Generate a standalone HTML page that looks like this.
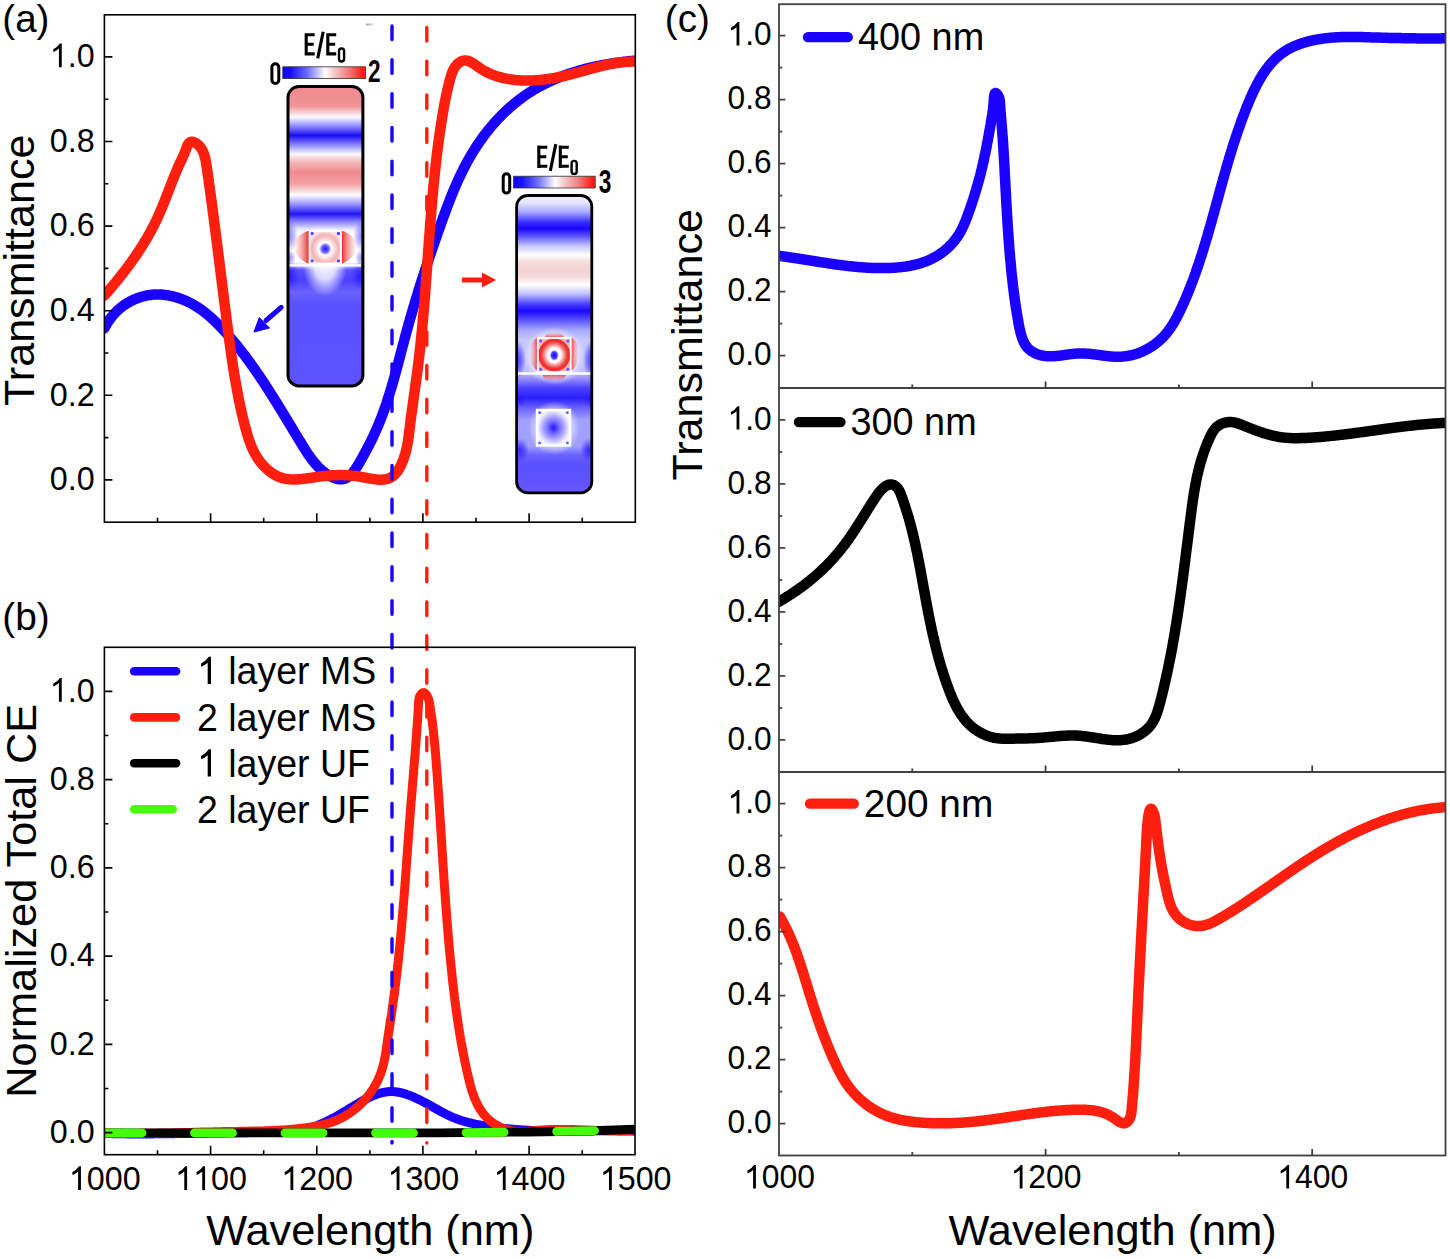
<!DOCTYPE html><html><head><meta charset="utf-8"><style>html,body{margin:0;padding:0;background:#fff;}svg{display:block;}text{font-family:"Liberation Sans",sans-serif;}</style></head><body>
<svg width="1450" height="1259" viewBox="0 0 1450 1259">
<rect width="1450" height="1259" fill="#fefefe"/>
<defs>
<clipPath id="ca"><rect x="104.4" y="14.8" width="530.9" height="507.4"/></clipPath>
<clipPath id="cb"><rect x="104.4" y="647.3" width="530.6" height="507.4"/></clipPath>
<clipPath id="cc0"><rect x="779.0" y="4.2" width="666.5" height="383.8"/></clipPath>
<clipPath id="cc1"><rect x="779.0" y="388.0" width="666.5" height="384.0"/></clipPath>
<clipPath id="cc2"><rect x="779.0" y="772.0" width="666.5" height="383.5"/></clipPath>
</defs>
<g clip-path="url(#ca)" fill="none" stroke-linejoin="round" stroke-linecap="round">
<path d="M104.4,328.2 104.9,327.3 105.4,326.4 105.9,325.5 106.4,324.6 106.9,323.7 107.4,322.8 108.0,321.9 108.6,321.1 109.1,320.2 109.7,319.4 110.3,318.6 110.9,317.8 111.6,317.0 112.2,316.2 112.9,315.4 113.5,314.7 114.2,313.9 114.9,313.2 115.6,312.4 116.3,311.7 117.0,311.0 117.7,310.3 118.5,309.7 119.2,309.0 120.0,308.4 120.7,307.7 121.5,307.1 122.3,306.5 123.1,305.9 123.9,305.3 124.7,304.8 125.5,304.2 126.3,303.7 127.2,303.2 128.0,302.6 128.9,302.2 129.7,301.7 130.6,301.2 131.5,300.8 132.4,300.3 133.2,299.9 134.1,299.5 135.0,299.1 135.9,298.7 136.9,298.4 137.8,298.0 138.7,297.7 139.6,297.4 140.6,297.1 141.5,296.8 142.5,296.5 143.4,296.3 144.4,296.0 145.3,295.8 146.3,295.6 147.2,295.4 148.2,295.2 149.2,295.1 150.2,295.0 151.2,294.8 152.1,294.7 153.1,294.6 154.1,294.6 155.1,294.5 156.1,294.5 157.1,294.5 158.1,294.5 159.1,294.5 160.1,294.5 161.1,294.6 162.1,294.6 163.1,294.7 164.1,294.8 165.1,295.0 166.1,295.1 167.1,295.2 168.1,295.4 169.2,295.6 170.2,295.8 171.2,296.0 172.2,296.2 173.1,296.5 174.1,296.7 175.1,297.0 176.1,297.3 177.1,297.6 178.1,297.9 179.1,298.2 180.0,298.5 181.0,298.9 182.0,299.2 182.9,299.6 183.9,300.0 184.8,300.4 185.8,300.8 186.7,301.2 187.6,301.6 188.5,302.1 189.5,302.5 190.4,303.0 191.3,303.5 192.2,304.0 193.0,304.5 193.9,305.0 194.8,305.5 195.6,306.0 196.5,306.5 197.3,307.1 198.2,307.6 199.0,308.2 199.8,308.7 200.7,309.3 201.5,309.9 202.3,310.5 203.1,311.1 203.9,311.7 204.7,312.3 205.4,312.9 206.2,313.5 207.0,314.1 207.7,314.8 208.5,315.4 209.3,316.1 210.0,316.7 210.8,317.4 211.5,318.0 212.2,318.7 213.0,319.4 213.7,320.1 214.4,320.7 215.1,321.4 215.8,322.1 216.5,322.8 217.2,323.5 217.9,324.2 218.6,324.9 219.3,325.6 220.0,326.4 220.7,327.1 221.4,327.8 222.1,328.5 222.8,329.2 223.4,330.0 224.1,330.7 224.8,331.4 225.5,332.2 226.1,332.9 226.8,333.6 227.5,334.4 228.1,335.1 228.8,335.9 229.4,336.6 230.1,337.4 230.7,338.1 231.4,338.9 232.0,339.6 232.7,340.4 233.3,341.1 233.9,341.9 234.6,342.7 235.2,343.4 235.8,344.2 236.5,345.0 237.1,345.7 237.7,346.5 238.3,347.3 239.0,348.1 239.6,348.9 240.2,349.6 240.8,350.4 241.4,351.2 242.0,352.0 242.6,352.8 243.2,353.6 243.9,354.4 244.5,355.1 245.1,355.9 245.7,356.7 246.2,357.5 246.8,358.3 247.4,359.1 248.0,359.9 248.6,360.7 249.2,361.5 249.8,362.4 250.4,363.2 251.0,364.0 251.5,364.8 252.1,365.6 252.7,366.4 253.3,367.2 253.8,368.0 254.4,368.9 255.0,369.7 255.6,370.5 256.1,371.3 256.7,372.1 257.3,373.0 257.8,373.8 258.4,374.6 259.0,375.4 259.5,376.3 260.1,377.1 260.6,377.9 261.2,378.8 261.7,379.6 262.3,380.4 262.9,381.3 263.4,382.1 264.0,382.9 264.5,383.8 265.1,384.6 265.6,385.5 266.1,386.3 266.7,387.1 267.2,388.0 267.8,388.8 268.3,389.7 268.9,390.5 269.4,391.4 269.9,392.2 270.5,393.1 271.0,393.9 271.6,394.8 272.1,395.6 272.6,396.5 273.2,397.3 273.7,398.2 274.2,399.0 274.8,399.9 275.3,400.7 275.8,401.6 276.4,402.4 276.9,403.3 277.4,404.2 278.0,405.0 278.5,405.9 279.0,406.7 279.5,407.6 280.1,408.4 280.6,409.3 281.1,410.2 281.6,411.0 282.2,411.9 282.7,412.7 283.2,413.6 283.7,414.5 284.3,415.3 284.8,416.2 285.3,417.0 285.8,417.9 286.4,418.8 286.9,419.6 287.4,420.5 287.9,421.4 288.4,422.2 289.0,423.1 289.5,424.0 290.0,424.8 290.5,425.7 291.1,426.5 291.6,427.4 292.1,428.3 292.6,429.1 293.1,430.0 293.7,430.9 294.2,431.7 294.7,432.6 295.2,433.4 295.8,434.3 296.3,435.2 296.8,436.0 297.3,436.9 297.9,437.8 298.4,438.6 298.9,439.5 299.4,440.3 300.0,441.2 300.5,442.1 301.0,442.9 301.5,443.8 302.1,444.6 302.6,445.5 303.1,446.4 303.7,447.2 304.2,448.1 304.7,448.9 305.3,449.8 305.8,450.6 306.3,451.5 306.9,452.3 307.4,453.1 308.0,454.0 308.6,454.8 309.1,455.6 309.7,456.4 310.3,457.3 310.9,458.1 311.5,458.9 312.0,459.7 312.7,460.5 313.3,461.2 313.9,462.0 314.5,462.8 315.2,463.5 315.8,464.3 316.5,465.0 317.2,465.7 317.8,466.5 318.5,467.2 319.2,467.9 320.0,468.6 320.7,469.2 321.4,469.9 322.2,470.6 323.0,471.2 323.7,471.8 324.5,472.5 325.3,473.1 326.2,473.7 327.0,474.2 327.9,474.8 328.7,475.3 329.6,475.8 330.5,476.3 331.4,476.8 332.3,477.2 333.2,477.6 334.2,478.0 335.1,478.3 336.0,478.6 336.9,478.8 337.9,479.0 338.8,479.2 339.7,479.3 340.6,479.3 341.5,479.3 342.4,479.2 343.3,479.0 344.2,478.8 345.1,478.5 346.0,478.1 346.8,477.7 347.6,477.2 348.5,476.6 349.3,476.0 350.1,475.3 350.8,474.6 351.6,473.9 352.3,473.1 353.0,472.3 353.7,471.4 354.3,470.6 355.0,469.7 355.6,468.8 356.2,467.9 356.8,467.0 357.4,466.1 357.9,465.2 358.5,464.3 359.0,463.3 359.6,462.4 360.1,461.5 360.6,460.5 361.2,459.6 361.7,458.7 362.2,457.8 362.7,456.9 363.2,456.0 363.7,455.1 364.2,454.1 364.7,453.2 365.2,452.3 365.7,451.4 366.2,450.5 366.7,449.6 367.1,448.7 367.6,447.8 368.1,446.9 368.5,446.0 369.0,445.1 369.4,444.3 369.9,443.4 370.3,442.5 370.8,441.6 371.2,440.7 371.7,439.8 372.1,438.9 372.5,438.0 373.0,437.1 373.4,436.2 373.8,435.3 374.2,434.4 374.6,433.5 375.0,432.6 375.4,431.7 375.8,430.9 376.2,430.0 376.6,429.1 377.0,428.2 377.4,427.3 377.8,426.4 378.2,425.5 378.6,424.5 378.9,423.6 379.3,422.7 379.7,421.8 380.0,420.9 380.4,420.0 380.8,419.1 381.1,418.2 381.5,417.2 381.8,416.3 382.2,415.4 382.5,414.5 382.9,413.6 383.2,412.6 383.5,411.7 383.9,410.8 384.2,409.8 384.5,408.9 384.9,408.0 385.2,407.0 385.5,406.1 385.8,405.2 386.2,404.2 386.5,403.3 386.8,402.3 387.1,401.4 387.4,400.4 387.7,399.5 388.0,398.5 388.3,397.6 388.6,396.7 388.9,395.7 389.2,394.7 389.5,393.8 389.8,392.8 390.1,391.9 390.4,390.9 390.7,390.0 391.0,389.0 391.3,388.1 391.6,387.1 391.8,386.1 392.1,385.2 392.4,384.2 392.7,383.2 393.0,382.3 393.2,381.3 393.5,380.4 393.8,379.4 394.1,378.4 394.3,377.5 394.6,376.5 394.9,375.5 395.1,374.5 395.4,373.6 395.7,372.6 395.9,371.6 396.2,370.7 396.5,369.7 396.7,368.7 397.0,367.7 397.2,366.8 397.5,365.8 397.8,364.8 398.0,363.9 398.3,362.9 398.5,361.9 398.8,360.9 399.1,360.0 399.3,359.0 399.6,358.0 399.8,357.0 400.1,356.1 400.3,355.1 400.6,354.1 400.9,353.1 401.1,352.1 401.4,351.2 401.6,350.2 401.9,349.2 402.1,348.2 402.4,347.3 402.6,346.3 402.9,345.3 403.2,344.3 403.4,343.4 403.7,342.4 403.9,341.4 404.2,340.4 404.4,339.5 404.7,338.5 405.0,337.5 405.2,336.6 405.5,335.6 405.7,334.6 406.0,333.6 406.3,332.7 406.5,331.7 406.8,330.7 407.1,329.8 407.3,328.8 407.6,327.8 407.9,326.9 408.1,325.9 408.4,324.9 408.7,324.0 409.0,323.0 409.2,322.0 409.5,321.1 409.8,320.1 410.0,319.1 410.3,318.2 410.6,317.2 410.9,316.2 411.2,315.3 411.4,314.3 411.7,313.4 412.0,312.4 412.3,311.4 412.6,310.5 412.8,309.5 413.1,308.6 413.4,307.6 413.7,306.6 414.0,305.7 414.3,304.7 414.5,303.8 414.8,302.8 415.1,301.9 415.4,300.9 415.7,299.9 416.0,299.0 416.3,298.0 416.6,297.1 416.9,296.1 417.2,295.2 417.5,294.2 417.7,293.3 418.0,292.3 418.3,291.4 418.6,290.4 418.9,289.5 419.2,288.5 419.5,287.6 419.8,286.6 420.1,285.6 420.4,284.7 420.7,283.7 421.0,282.8 421.3,281.8 421.6,280.9 421.9,279.9 422.3,279.0 422.6,278.1 422.9,277.1 423.2,276.2 423.5,275.2 423.8,274.3 424.1,273.3 424.4,272.4 424.7,271.4 425.0,270.5 425.3,269.5 425.6,268.6 426.0,267.6 426.3,266.7 426.6,265.7 426.9,264.8 427.2,263.8 427.5,262.9 427.8,261.9 428.2,261.0 428.5,260.0 428.8,259.1 429.1,258.2 429.4,257.2 429.7,256.3 430.1,255.3 430.4,254.4 430.7,253.4 431.0,252.5 431.3,251.5 431.7,250.6 432.0,249.6 432.3,248.7 432.6,247.8 433.0,246.8 433.3,245.9 433.6,244.9 433.9,244.0 434.3,243.0 434.6,242.1 434.9,241.1 435.2,240.2 435.6,239.2 435.9,238.3 436.2,237.4 436.6,236.4 436.9,235.5 437.2,234.5 437.5,233.6 437.9,232.6 438.2,231.7 438.5,230.7 438.9,229.8 439.2,228.8 439.5,227.9 439.9,227.0 440.2,226.0 440.5,225.1 440.9,224.1 441.2,223.2 441.5,222.2 441.9,221.3 442.2,220.3 442.6,219.4 442.9,218.4 443.2,217.5 443.6,216.5 443.9,215.6 444.3,214.7 444.6,213.7 445.0,212.8 445.3,211.8 445.7,210.9 446.0,209.9 446.4,209.0 446.7,208.1 447.1,207.1 447.4,206.2 447.8,205.2 448.1,204.3 448.5,203.4 448.9,202.4 449.2,201.5 449.6,200.5 449.9,199.6 450.3,198.7 450.7,197.7 451.1,196.8 451.4,195.9 451.8,194.9 452.2,194.0 452.6,193.1 452.9,192.2 453.3,191.2 453.7,190.3 454.1,189.4 454.5,188.4 454.9,187.5 455.3,186.6 455.7,185.7 456.1,184.8 456.5,183.8 456.9,182.9 457.3,182.0 457.7,181.1 458.1,180.2 458.5,179.3 459.0,178.4 459.4,177.4 459.8,176.5 460.2,175.6 460.7,174.7 461.1,173.8 461.5,172.9 462.0,172.0 462.4,171.1 462.9,170.2 463.3,169.3 463.8,168.4 464.2,167.5 464.7,166.6 465.1,165.8 465.6,164.9 466.1,164.0 466.6,163.1 467.0,162.2 467.5,161.3 468.0,160.5 468.5,159.6 469.0,158.7 469.5,157.8 470.0,157.0 470.5,156.1 471.0,155.2 471.5,154.4 472.0,153.5 472.5,152.7 473.1,151.8 473.6,151.0 474.1,150.1 474.7,149.3 475.2,148.4 475.7,147.6 476.3,146.7 476.8,145.9 477.4,145.1 477.9,144.2 478.5,143.4 479.1,142.6 479.6,141.7 480.2,140.9 480.8,140.1 481.4,139.3 482.0,138.5 482.5,137.7 483.1,136.8 483.7,136.0 484.3,135.2 484.9,134.4 485.5,133.6 486.2,132.8 486.8,132.1 487.4,131.3 488.0,130.5 488.6,129.7 489.3,128.9 489.9,128.2 490.5,127.4 491.2,126.6 491.8,125.9 492.5,125.1 493.1,124.3 493.8,123.6 494.5,122.8 495.1,122.1 495.8,121.3 496.5,120.6 497.1,119.9 497.8,119.1 498.5,118.4 499.2,117.7 499.9,117.0 500.6,116.3 501.3,115.5 502.0,114.8 502.7,114.1 503.4,113.4 504.1,112.7 504.8,112.1 505.6,111.4 506.3,110.7 507.0,110.0 507.7,109.3 508.5,108.7 509.2,108.0 510.0,107.3 510.7,106.7 511.5,106.0 512.2,105.4 513.0,104.7 513.7,104.1 514.5,103.5 515.3,102.8 516.1,102.2 516.8,101.6 517.6,101.0 518.4,100.4 519.2,99.8 520.0,99.2 520.8,98.6 521.6,98.0 522.4,97.4 523.2,96.8 524.0,96.2 524.8,95.6 525.6,95.1 526.4,94.5 527.3,94.0 528.1,93.4 528.9,92.9 529.8,92.3 530.6,91.8 531.5,91.3 532.3,90.7 533.1,90.2 534.0,89.7 534.9,89.2 535.7,88.7 536.6,88.2 537.5,87.7 538.3,87.2 539.2,86.7 540.1,86.3 541.0,85.8 541.8,85.3 542.7,84.9 543.6,84.4 544.5,84.0 545.4,83.5 546.3,83.1 547.2,82.6 548.1,82.2 549.0,81.8 549.9,81.4 550.8,80.9 551.8,80.5 552.7,80.1 553.6,79.7 554.5,79.3 555.4,78.9 556.4,78.5 557.3,78.2 558.2,77.8 559.2,77.4 560.1,77.0 561.0,76.7 562.0,76.3 562.9,76.0 563.9,75.6 564.8,75.3 565.8,74.9 566.7,74.6 567.7,74.3 568.6,73.9 569.6,73.6 570.6,73.3 571.5,73.0 572.5,72.7 573.4,72.3 574.4,72.0 575.4,71.7 576.3,71.5 577.3,71.2 578.3,70.9 579.2,70.6 580.2,70.3 581.2,70.0 582.2,69.8 583.1,69.5 584.1,69.2 585.1,69.0 586.1,68.7 587.1,68.5 588.0,68.2 589.0,68.0 590.0,67.8 591.0,67.5 592.0,67.3 593.0,67.1 593.9,66.9 594.9,66.6 595.9,66.4 596.9,66.2 597.9,66.0 598.9,65.8 599.9,65.6 600.9,65.4 601.8,65.2 602.8,65.0 603.8,64.8 604.8,64.6 605.8,64.5 606.8,64.3 607.8,64.1 608.8,64.0 609.8,63.8 610.8,63.6 611.7,63.5 612.7,63.3 613.7,63.2 614.7,63.0 615.7,62.9 616.7,62.7 617.7,62.6 618.7,62.4 619.6,62.3 620.6,62.2 621.6,62.1 622.6,61.9 623.6,61.8 624.6,61.7 625.5,61.6 626.5,61.5 627.5,61.4 628.5,61.3 629.5,61.1 630.4,61.0 631.4,61.0 632.4,60.9 633.3,60.8 634.3,60.7 635.3,60.6" stroke="#1a00ff" stroke-width="10.5"/>
<path d="M104.3,295.5 105.0,294.8 105.6,294.0 106.3,293.3 106.9,292.5 107.6,291.7 108.2,291.0 108.9,290.2 109.6,289.5 110.2,288.7 110.9,288.0 111.5,287.2 112.1,286.4 112.8,285.7 113.4,284.9 114.1,284.1 114.7,283.4 115.4,282.6 116.0,281.8 116.6,281.1 117.3,280.3 117.9,279.5 118.5,278.7 119.2,278.0 119.8,277.2 120.4,276.4 121.0,275.6 121.6,274.8 122.3,274.0 122.9,273.3 123.5,272.5 124.1,271.7 124.7,270.9 125.3,270.1 125.9,269.3 126.5,268.5 127.1,267.7 127.7,266.9 128.3,266.1 128.9,265.3 129.5,264.5 130.1,263.7 130.7,262.9 131.3,262.1 131.9,261.2 132.4,260.4 133.0,259.6 133.6,258.8 134.2,258.0 134.7,257.2 135.3,256.3 135.9,255.5 136.4,254.7 137.0,253.9 137.5,253.0 138.1,252.2 138.7,251.4 139.2,250.5 139.7,249.7 140.3,248.9 140.8,248.0 141.4,247.2 141.9,246.3 142.4,245.5 143.0,244.6 143.5,243.8 144.0,242.9 144.5,242.1 145.0,241.2 145.6,240.4 146.1,239.5 146.6,238.7 147.1,237.8 147.6,236.9 148.1,236.1 148.6,235.2 149.0,234.3 149.5,233.5 150.0,232.6 150.5,231.7 151.0,230.8 151.4,229.9 151.9,229.1 152.4,228.2 152.8,227.3 153.3,226.4 153.8,225.5 154.2,224.6 154.7,223.7 155.1,222.8 155.5,221.9 156.0,221.0 156.4,220.1 156.8,219.2 157.3,218.3 157.7,217.4 158.1,216.5 158.5,215.6 158.9,214.7 159.3,213.7 159.7,212.8 160.1,211.9 160.5,211.0 160.9,210.0 161.3,209.1 161.7,208.2 162.1,207.3 162.5,206.3 162.9,205.4 163.2,204.5 163.6,203.6 164.0,202.6 164.4,201.7 164.7,200.8 165.1,199.8 165.5,198.9 165.8,198.0 166.2,197.0 166.6,196.1 166.9,195.1 167.3,194.2 167.7,193.3 168.0,192.3 168.4,191.4 168.7,190.5 169.1,189.5 169.5,188.6 169.8,187.7 170.2,186.8 170.5,185.8 170.9,184.9 171.3,184.0 171.6,183.0 172.0,182.1 172.3,181.2 172.7,180.3 173.1,179.4 173.4,178.4 173.8,177.5 174.2,176.6 174.5,175.7 174.9,174.8 175.3,173.9 175.7,173.0 176.0,172.1 176.4,171.2 176.8,170.3 177.2,169.4 177.6,168.5 177.9,167.6 178.3,166.7 178.7,165.8 179.1,164.9 179.5,164.0 179.9,163.2 180.3,162.3 180.7,161.4 181.2,160.5 181.6,159.6 182.0,158.7 182.4,157.8 182.8,156.9 183.3,155.9 183.7,154.9 184.1,153.9 184.6,152.8 185.0,151.7 185.4,150.6 185.9,149.4 186.3,148.2 186.8,147.0 187.3,145.8 187.8,144.8 188.4,143.8 189.0,143.0 189.7,142.4 190.5,142.0 191.2,141.8 192.1,141.8 192.9,141.9 193.8,142.1 194.6,142.5 195.5,142.9 196.3,143.4 197.1,144.0 197.8,144.5 198.5,145.2 199.2,145.8 199.8,146.5 200.4,147.2 200.9,147.9 201.4,148.7 201.9,149.5 202.3,150.3 202.8,151.1 203.2,152.0 203.5,152.9 203.9,153.8 204.2,154.7 204.5,155.6 204.7,156.6 205.0,157.5 205.2,158.5 205.5,159.5 205.7,160.5 205.9,161.5 206.0,162.5 206.2,163.5 206.4,164.6 206.5,165.6 206.7,166.6 206.9,167.7 207.0,168.7 207.2,169.8 207.3,170.8 207.4,171.8 207.6,172.9 207.7,173.9 207.9,174.9 208.0,175.9 208.2,177.0 208.3,178.0 208.5,179.0 208.6,180.1 208.8,181.1 208.9,182.1 209.0,183.1 209.2,184.2 209.3,185.2 209.5,186.2 209.6,187.2 209.7,188.2 209.9,189.3 210.0,190.3 210.2,191.3 210.3,192.3 210.4,193.3 210.6,194.3 210.7,195.4 210.8,196.4 211.0,197.4 211.1,198.4 211.3,199.4 211.4,200.4 211.5,201.4 211.7,202.4 211.8,203.4 211.9,204.5 212.1,205.5 212.2,206.5 212.3,207.5 212.5,208.5 212.6,209.5 212.7,210.5 212.9,211.5 213.0,212.5 213.1,213.5 213.3,214.5 213.4,215.5 213.5,216.5 213.7,217.5 213.8,218.5 213.9,219.5 214.0,220.5 214.2,221.5 214.3,222.5 214.4,223.5 214.6,224.5 214.7,225.5 214.8,226.5 214.9,227.5 215.1,228.5 215.2,229.5 215.3,230.5 215.5,231.4 215.6,232.4 215.7,233.4 215.8,234.4 216.0,235.4 216.1,236.4 216.2,237.4 216.3,238.4 216.5,239.4 216.6,240.4 216.7,241.4 216.8,242.3 217.0,243.3 217.1,244.3 217.2,245.3 217.3,246.3 217.5,247.3 217.6,248.3 217.7,249.2 217.8,250.2 218.0,251.2 218.1,252.2 218.2,253.2 218.3,254.2 218.5,255.2 218.6,256.1 218.7,257.1 218.8,258.1 219.0,259.1 219.1,260.1 219.2,261.1 219.3,262.0 219.5,263.0 219.6,264.0 219.7,265.0 219.8,266.0 219.9,267.0 220.1,267.9 220.2,268.9 220.3,269.9 220.4,270.9 220.6,271.9 220.7,272.8 220.8,273.8 220.9,274.8 221.0,275.8 221.2,276.8 221.3,277.7 221.4,278.7 221.5,279.7 221.7,280.7 221.8,281.7 221.9,282.7 222.0,283.6 222.2,284.6 222.3,285.6 222.4,286.6 222.5,287.6 222.6,288.5 222.8,289.5 222.9,290.5 223.0,291.5 223.1,292.5 223.3,293.4 223.4,294.4 223.5,295.4 223.6,296.4 223.8,297.4 223.9,298.3 224.0,299.3 224.1,300.3 224.3,301.3 224.4,302.3 224.5,303.3 224.6,304.2 224.8,305.2 224.9,306.2 225.0,307.2 225.1,308.2 225.3,309.2 225.4,310.1 225.5,311.1 225.6,312.1 225.8,313.1 225.9,314.1 226.0,315.1 226.1,316.0 226.3,317.0 226.4,318.0 226.5,319.0 226.6,320.0 226.8,321.0 226.9,322.0 227.0,322.9 227.2,323.9 227.3,324.9 227.4,325.9 227.5,326.9 227.7,327.9 227.8,328.9 227.9,329.9 228.1,330.9 228.2,331.8 228.3,332.8 228.5,333.8 228.6,334.8 228.7,335.8 228.8,336.8 229.0,337.8 229.1,338.8 229.2,339.8 229.4,340.8 229.5,341.8 229.6,342.8 229.8,343.8 229.9,344.7 230.1,345.7 230.2,346.7 230.3,347.7 230.5,348.7 230.6,349.7 230.7,350.7 230.9,351.7 231.0,352.7 231.2,353.7 231.3,354.7 231.5,355.7 231.6,356.7 231.7,357.7 231.9,358.7 232.0,359.7 232.2,360.7 232.3,361.7 232.5,362.7 232.6,363.6 232.8,364.6 232.9,365.6 233.1,366.6 233.2,367.6 233.4,368.6 233.6,369.6 233.7,370.6 233.9,371.6 234.0,372.6 234.2,373.6 234.4,374.6 234.5,375.6 234.7,376.6 234.8,377.6 235.0,378.6 235.2,379.5 235.4,380.5 235.5,381.5 235.7,382.5 235.9,383.5 236.0,384.5 236.2,385.5 236.4,386.5 236.6,387.5 236.8,388.5 236.9,389.5 237.1,390.4 237.3,391.4 237.5,392.4 237.7,393.4 237.9,394.4 238.1,395.4 238.3,396.4 238.4,397.4 238.6,398.3 238.8,399.3 239.0,400.3 239.2,401.3 239.4,402.3 239.6,403.3 239.9,404.2 240.1,405.2 240.3,406.2 240.5,407.2 240.7,408.2 240.9,409.1 241.1,410.1 241.3,411.1 241.6,412.1 241.8,413.0 242.0,414.0 242.2,415.0 242.5,416.0 242.7,416.9 242.9,417.9 243.2,418.9 243.4,419.9 243.7,420.8 243.9,421.8 244.1,422.8 244.4,423.7 244.6,424.7 244.9,425.7 245.1,426.6 245.4,427.6 245.6,428.6 245.9,429.5 246.2,430.5 246.4,431.4 246.7,432.4 247.0,433.4 247.3,434.3 247.5,435.3 247.8,436.2 248.1,437.2 248.4,438.1 248.7,439.0 249.1,440.0 249.4,440.9 249.7,441.9 250.0,442.8 250.4,443.7 250.8,444.6 251.1,445.5 251.5,446.5 251.9,447.4 252.3,448.3 252.7,449.2 253.1,450.1 253.5,451.0 254.0,451.8 254.4,452.7 254.9,453.6 255.4,454.5 255.9,455.3 256.4,456.2 256.9,457.0 257.4,457.9 258.0,458.7 258.5,459.5 259.1,460.3 259.7,461.2 260.3,462.0 261.0,462.8 261.6,463.6 262.3,464.3 263.0,465.1 263.6,465.9 264.3,466.6 265.1,467.3 265.8,468.0 266.5,468.7 267.3,469.4 268.1,470.1 268.9,470.7 269.7,471.4 270.5,472.0 271.3,472.6 272.1,473.2 273.0,473.7 273.8,474.2 274.7,474.8 275.5,475.2 276.4,475.7 277.3,476.1 278.2,476.5 279.1,476.9 280.1,477.3 281.0,477.6 281.9,477.9 282.9,478.2 283.8,478.4 284.8,478.6 285.8,478.8 286.7,479.0 287.7,479.1 288.7,479.2 289.7,479.3 290.7,479.4 291.7,479.4 292.7,479.5 293.7,479.5 294.7,479.5 295.7,479.4 296.7,479.4 297.8,479.3 298.8,479.3 299.8,479.2 300.8,479.1 301.9,479.0 302.9,478.9 303.9,478.7 304.9,478.6 306.0,478.5 307.0,478.3 308.0,478.2 309.0,478.1 310.0,477.9 311.0,477.8 312.1,477.6 313.1,477.5 314.1,477.3 315.1,477.2 316.1,477.0 317.0,476.9 318.0,476.8 319.0,476.6 320.0,476.5 321.0,476.4 321.9,476.3 322.9,476.2 323.9,476.1 324.9,476.0 325.8,475.9 326.8,475.8 327.7,475.7 328.7,475.6 329.7,475.5 330.6,475.5 331.6,475.4 332.5,475.3 333.5,475.3 334.5,475.2 335.4,475.2 336.4,475.2 337.3,475.1 338.3,475.1 339.3,475.1 340.2,475.1 341.2,475.1 342.2,475.1 343.1,475.1 344.1,475.1 345.1,475.2 346.1,475.2 347.0,475.3 348.0,475.3 349.0,475.4 350.0,475.5 351.0,475.5 352.0,475.6 353.0,475.7 354.0,475.9 355.0,476.0 356.0,476.1 357.1,476.2 358.1,476.4 359.1,476.6 360.2,476.7 361.2,476.9 362.3,477.1 363.3,477.3 364.4,477.5 365.4,477.7 366.5,477.9 367.5,478.1 368.6,478.3 369.7,478.5 370.7,478.7 371.8,478.9 372.8,479.0 373.9,479.2 374.9,479.3 375.9,479.4 377.0,479.5 378.0,479.6 379.0,479.7 380.0,479.7 380.9,479.7 381.9,479.7 382.9,479.6 383.8,479.6 384.7,479.4 385.7,479.3 386.6,479.1 387.4,478.9 388.3,478.6 389.1,478.3 389.9,477.9 390.7,477.5 391.5,477.1 392.3,476.6 393.0,476.0 393.7,475.4 394.4,474.8 395.1,474.1 395.7,473.4 396.4,472.7 397.0,471.9 397.6,471.1 398.1,470.3 398.7,469.4 399.2,468.5 399.7,467.6 400.2,466.7 400.7,465.8 401.1,464.9 401.6,463.9 402.0,462.9 402.4,462.0 402.8,461.0 403.2,460.0 403.5,459.1 403.9,458.1 404.2,457.1 404.5,456.1 404.8,455.1 405.1,454.2 405.4,453.2 405.7,452.2 405.9,451.2 406.2,450.3 406.4,449.3 406.6,448.3 406.8,447.3 407.0,446.3 407.2,445.4 407.4,444.4 407.6,443.4 407.7,442.4 407.9,441.4 408.1,440.4 408.2,439.5 408.3,438.5 408.5,437.5 408.6,436.5 408.8,435.5 408.9,434.5 409.0,433.6 409.1,432.6 409.3,431.6 409.4,430.6 409.5,429.6 409.6,428.6 409.7,427.6 409.9,426.7 410.0,425.7 410.1,424.7 410.2,423.7 410.4,422.7 410.5,421.7 410.6,420.7 410.7,419.8 410.9,418.8 411.0,417.8 411.1,416.8 411.3,415.8 411.4,414.8 411.5,413.8 411.7,412.8 411.8,411.9 411.9,410.9 412.1,409.9 412.2,408.9 412.3,407.9 412.5,406.9 412.6,405.9 412.7,404.9 412.9,403.9 413.0,403.0 413.1,402.0 413.3,401.0 413.4,400.0 413.5,399.0 413.7,398.0 413.8,397.0 414.0,396.0 414.1,395.0 414.2,394.1 414.4,393.1 414.5,392.1 414.6,391.1 414.8,390.1 414.9,389.1 415.1,388.1 415.2,387.1 415.3,386.1 415.5,385.1 415.6,384.2 415.7,383.2 415.9,382.2 416.0,381.2 416.1,380.2 416.3,379.2 416.4,378.2 416.5,377.2 416.7,376.2 416.8,375.2 416.9,374.2 417.1,373.2 417.2,372.3 417.3,371.3 417.5,370.3 417.6,369.3 417.7,368.3 417.8,367.3 418.0,366.3 418.1,365.3 418.2,364.3 418.3,363.3 418.5,362.3 418.6,361.3 418.7,360.3 418.8,359.4 418.9,358.4 419.1,357.4 419.2,356.4 419.3,355.4 419.4,354.4 419.5,353.4 419.6,352.4 419.7,351.4 419.8,350.4 420.0,349.4 420.1,348.4 420.2,347.4 420.3,346.4 420.4,345.4 420.5,344.4 420.6,343.5 420.7,342.5 420.8,341.5 420.9,340.5 421.0,339.5 421.1,338.5 421.2,337.5 421.3,336.5 421.4,335.5 421.5,334.5 421.6,333.5 421.7,332.5 421.8,331.5 421.9,330.5 422.0,329.5 422.1,328.5 422.2,327.5 422.3,326.5 422.4,325.6 422.5,324.6 422.6,323.6 422.7,322.6 422.7,321.6 422.8,320.6 422.9,319.6 423.0,318.6 423.1,317.6 423.2,316.6 423.3,315.6 423.4,314.6 423.5,313.6 423.5,312.6 423.6,311.6 423.7,310.6 423.8,309.6 423.9,308.6 424.0,307.6 424.0,306.6 424.1,305.6 424.2,304.6 424.3,303.6 424.4,302.7 424.5,301.7 424.5,300.7 424.6,299.7 424.7,298.7 424.8,297.7 424.9,296.7 424.9,295.7 425.0,294.7 425.1,293.7 425.2,292.7 425.2,291.7 425.3,290.7 425.4,289.7 425.5,288.7 425.6,287.7 425.6,286.7 425.7,285.7 425.8,284.7 425.9,283.7 425.9,282.7 426.0,281.7 426.1,280.7 426.2,279.7 426.2,278.7 426.3,277.7 426.4,276.7 426.4,275.8 426.5,274.8 426.6,273.8 426.7,272.8 426.7,271.8 426.8,270.8 426.9,269.8 427.0,268.8 427.0,267.8 427.1,266.8 427.2,265.8 427.3,264.8 427.3,263.8 427.4,262.8 427.5,261.8 427.5,260.8 427.6,259.8 427.7,258.8 427.8,257.8 427.8,256.8 427.9,255.8 428.0,254.8 428.0,253.8 428.1,252.8 428.2,251.8 428.3,250.8 428.3,249.8 428.4,248.8 428.5,247.8 428.6,246.9 428.6,245.9 428.7,244.9 428.8,243.9 428.8,242.9 428.9,241.9 429.0,240.9 429.1,239.9 429.1,238.9 429.2,237.9 429.3,236.9 429.4,235.9 429.4,234.9 429.5,233.9 429.6,232.9 429.7,231.9 429.7,230.9 429.8,229.9 429.9,228.9 430.0,227.9 430.0,226.9 430.1,225.9 430.2,224.9 430.3,223.9 430.3,222.9 430.4,221.9 430.5,221.0 430.6,220.0 430.7,219.0 430.7,218.0 430.8,217.0 430.9,216.0 431.0,215.0 431.1,214.0 431.1,213.0 431.2,212.0 431.3,211.0 431.4,210.0 431.5,209.0 431.6,208.0 431.6,207.0 431.7,206.0 431.8,205.0 431.9,204.0 432.0,203.0 432.1,202.0 432.2,201.0 432.2,200.0 432.3,199.0 432.4,198.1 432.5,197.1 432.6,196.1 432.7,195.1 432.8,194.1 432.9,193.1 433.0,192.1 433.0,191.1 433.1,190.1 433.2,189.1 433.3,188.1 433.4,187.1 433.5,186.1 433.6,185.1 433.7,184.1 433.8,183.1 433.9,182.1 434.0,181.1 434.1,180.2 434.2,179.2 434.3,178.2 434.4,177.2 434.5,176.2 434.6,175.2 434.7,174.2 434.8,173.2 434.9,172.2 435.0,171.2 435.1,170.2 435.2,169.2 435.3,168.2 435.5,167.2 435.6,166.2 435.7,165.3 435.8,164.3 435.9,163.3 436.0,162.3 436.1,161.3 436.2,160.3 436.4,159.3 436.5,158.3 436.6,157.3 436.7,156.3 436.8,155.3 436.9,154.3 437.1,153.3 437.2,152.4 437.3,151.4 437.4,150.4 437.6,149.4 437.7,148.4 437.8,147.4 437.9,146.4 438.1,145.4 438.2,144.4 438.3,143.4 438.5,142.4 438.6,141.4 438.7,140.5 438.9,139.5 439.0,138.5 439.1,137.5 439.3,136.5 439.4,135.5 439.6,134.5 439.7,133.5 439.8,132.5 440.0,131.5 440.1,130.6 440.3,129.6 440.4,128.6 440.6,127.6 440.7,126.6 440.9,125.6 441.0,124.6 441.2,123.6 441.3,122.6 441.5,121.6 441.7,120.7 441.8,119.7 442.0,118.7 442.1,117.7 442.3,116.7 442.5,115.7 442.6,114.7 442.8,113.7 443.0,112.8 443.1,111.8 443.3,110.8 443.5,109.8 443.6,108.8 443.8,107.8 444.0,106.8 444.2,105.8 444.3,104.9 444.5,103.9 444.7,102.9 444.9,101.9 445.1,100.9 445.3,100.0 445.5,99.0 445.7,98.0 445.9,97.0 446.1,96.1 446.3,95.1 446.5,94.1 446.7,93.1 446.9,92.2 447.1,91.2 447.3,90.2 447.6,89.3 447.8,88.3 448.0,87.3 448.2,86.4 448.5,85.4 448.7,84.5 448.9,83.5 449.2,82.5 449.4,81.6 449.7,80.6 450.0,79.6 450.2,78.7 450.5,77.7 450.8,76.7 451.1,75.7 451.4,74.7 451.7,73.8 452.1,72.8 452.4,71.8 452.8,70.9 453.3,69.9 453.7,69.0 454.2,68.1 454.8,67.2 455.4,66.4 456.1,65.6 456.8,64.8 457.5,64.0 458.3,63.3 459.1,62.7 459.9,62.1 460.8,61.7 461.7,61.2 462.5,60.9 463.4,60.7 464.3,60.5 465.2,60.5 466.1,60.5 467.0,60.6 467.8,60.8 468.7,61.1 469.6,61.5 470.5,61.9 471.3,62.3 472.2,62.8 473.1,63.4 474.0,63.9 474.9,64.5 475.7,65.2 476.6,65.8 477.5,66.4 478.4,67.1 479.3,67.7 480.2,68.3 481.1,68.9 482.0,69.5 482.9,70.0 483.8,70.6 484.8,71.1 485.7,71.6 486.6,72.1 487.5,72.5 488.5,73.0 489.4,73.4 490.4,73.8 491.3,74.2 492.2,74.6 493.2,75.0 494.1,75.3 495.1,75.7 496.1,76.0 497.0,76.3 498.0,76.6 498.9,76.9 499.9,77.1 500.9,77.4 501.8,77.6 502.8,77.9 503.8,78.1 504.8,78.3 505.7,78.5 506.7,78.7 507.7,78.9 508.7,79.1 509.6,79.2 510.6,79.4 511.6,79.5 512.6,79.6 513.6,79.8 514.5,79.9 515.5,80.0 516.5,80.1 517.5,80.2 518.5,80.2 519.5,80.3 520.5,80.4 521.4,80.4 522.4,80.5 523.4,80.5 524.4,80.5 525.4,80.5 526.4,80.6 527.4,80.6 528.4,80.5 529.4,80.5 530.4,80.5 531.4,80.5 532.3,80.4 533.3,80.4 534.3,80.3 535.3,80.3 536.3,80.2 537.3,80.2 538.3,80.1 539.3,80.0 540.3,79.9 541.3,79.8 542.3,79.7 543.3,79.6 544.2,79.5 545.2,79.3 546.2,79.2 547.2,79.1 548.2,78.9 549.2,78.8 550.2,78.6 551.2,78.5 552.2,78.3 553.2,78.1 554.1,78.0 555.1,77.8 556.1,77.6 557.1,77.4 558.1,77.2 559.1,77.0 560.0,76.8 561.0,76.6 562.0,76.4 563.0,76.2 564.0,76.0 564.9,75.7 565.9,75.5 566.9,75.3 567.9,75.0 568.9,74.8 569.8,74.6 570.8,74.3 571.8,74.1 572.7,73.8 573.7,73.6 574.7,73.3 575.6,73.0 576.6,72.8 577.6,72.5 578.5,72.3 579.5,72.0 580.5,71.7 581.4,71.5 582.4,71.2 583.4,70.9 584.3,70.6 585.3,70.4 586.2,70.1 587.2,69.8 588.2,69.6 589.1,69.3 590.1,69.0 591.0,68.8 592.0,68.5 593.0,68.2 593.9,68.0 594.9,67.7 595.9,67.5 596.8,67.2 597.8,67.0 598.7,66.7 599.7,66.5 600.7,66.2 601.6,66.0 602.6,65.7 603.6,65.5 604.5,65.3 605.5,65.1 606.5,64.8 607.4,64.6 608.4,64.4 609.4,64.2 610.4,64.0 611.3,63.8 612.3,63.7 613.3,63.5 614.3,63.3 615.3,63.1 616.2,63.0 617.2,62.8 618.2,62.7 619.2,62.6 620.2,62.4 621.2,62.3 622.2,62.2 623.2,62.1 624.2,62.0 625.2,61.9 626.2,61.8 627.2,61.8 628.2,61.7 629.2,61.7 630.2,61.6 631.2,61.6 632.2,61.6 633.3,61.6 634.3,61.6 635.3,61.6" stroke="#ff1f0f" stroke-width="10.5"/>
</g>
<g clip-path="url(#cb)" fill="none" stroke-linejoin="round" stroke-linecap="round">
<path d="M104.4,1133.5 105.4,1133.5 106.5,1133.5 107.5,1133.6 108.5,1133.6 109.5,1133.6 110.6,1133.6 111.6,1133.6 112.6,1133.7 113.6,1133.7 114.6,1133.7 115.7,1133.7 116.7,1133.7 117.7,1133.7 118.7,1133.8 119.7,1133.8 120.7,1133.8 121.8,1133.8 122.8,1133.8 123.8,1133.8 124.8,1133.8 125.8,1133.8 126.8,1133.8 127.8,1133.9 128.8,1133.9 129.8,1133.9 130.9,1133.9 131.9,1133.9 132.9,1133.9 133.9,1133.9 134.9,1133.9 135.9,1133.9 136.9,1133.9 137.9,1133.9 138.9,1133.9 139.9,1133.9 140.9,1133.9 141.9,1133.9 142.9,1133.9 143.9,1133.9 144.9,1133.9 145.9,1133.9 146.9,1133.9 147.9,1133.9 148.9,1133.9 149.9,1133.9 150.9,1133.9 151.9,1133.9 152.9,1133.9 153.9,1133.8 154.9,1133.8 155.9,1133.8 156.9,1133.8 157.9,1133.8 158.9,1133.8 159.9,1133.8 160.9,1133.8 161.9,1133.8 162.9,1133.8 163.9,1133.8 164.9,1133.8 165.9,1133.7 166.9,1133.7 167.9,1133.7 168.9,1133.7 169.8,1133.7 170.8,1133.7 171.8,1133.7 172.8,1133.7 173.8,1133.7 174.8,1133.6 175.8,1133.6 176.8,1133.6 177.8,1133.6 178.8,1133.6 179.8,1133.6 180.8,1133.6 181.8,1133.5 182.8,1133.5 183.7,1133.5 184.7,1133.5 185.7,1133.5 186.7,1133.5 187.7,1133.5 188.7,1133.4 189.7,1133.4 190.7,1133.4 191.7,1133.4 192.7,1133.4 193.7,1133.4 194.7,1133.3 195.6,1133.3 196.6,1133.3 197.6,1133.3 198.6,1133.3 199.6,1133.3 200.6,1133.2 201.6,1133.2 202.6,1133.2 203.6,1133.2 204.6,1133.2 205.6,1133.2 206.6,1133.2 207.6,1133.1 208.6,1133.1 209.6,1133.1 210.5,1133.1 211.5,1133.1 212.5,1133.1 213.5,1133.0 214.5,1133.0 215.5,1133.0 216.5,1133.0 217.5,1133.0 218.5,1133.0 219.5,1133.0 220.5,1132.9 221.5,1132.9 222.5,1132.9 223.5,1132.9 224.5,1132.9 225.5,1132.9 226.5,1132.9 227.5,1132.8 228.5,1132.8 229.5,1132.8 230.5,1132.8 231.5,1132.8 232.5,1132.8 233.5,1132.8 234.5,1132.8 235.5,1132.8 236.5,1132.7 237.5,1132.7 238.5,1132.7 239.5,1132.7 240.5,1132.7 241.5,1132.7 242.6,1132.7 243.6,1132.7 244.6,1132.7 245.6,1132.7 246.6,1132.7 247.6,1132.7 248.6,1132.6 249.6,1132.6 250.6,1132.6 251.7,1132.6 252.7,1132.6 253.7,1132.6 254.7,1132.6 255.7,1132.6 256.7,1132.6 257.7,1132.6 258.8,1132.6 259.8,1132.6 260.8,1132.6 261.8,1132.6 262.8,1132.6 263.9,1132.6 264.9,1132.6 265.9,1132.6 266.9,1132.6 268.0,1132.6 269.0,1132.6 270.0,1132.6 271.0,1132.6 272.0,1132.6 273.1,1132.6 274.1,1132.6 275.1,1132.5 276.1,1132.5 277.1,1132.5 278.2,1132.5 279.2,1132.4 280.2,1132.4 281.2,1132.3 282.2,1132.3 283.2,1132.2 284.2,1132.2 285.3,1132.1 286.3,1132.1 287.3,1132.0 288.3,1131.9 289.3,1131.8 290.3,1131.7 291.3,1131.6 292.3,1131.5 293.2,1131.4 294.2,1131.3 295.2,1131.2 296.2,1131.0 297.2,1130.9 298.2,1130.7 299.1,1130.5 300.1,1130.4 301.1,1130.2 302.0,1130.0 303.0,1129.8 304.0,1129.6 304.9,1129.4 305.9,1129.1 306.8,1128.9 307.8,1128.6 308.7,1128.4 309.6,1128.1 310.6,1127.8 311.5,1127.5 312.4,1127.2 313.4,1126.9 314.3,1126.6 315.2,1126.2 316.1,1125.9 317.0,1125.5 318.0,1125.2 318.9,1124.8 319.8,1124.5 320.7,1124.1 321.6,1123.7 322.5,1123.3 323.4,1122.9 324.3,1122.5 325.2,1122.1 326.1,1121.6 327.0,1121.2 327.9,1120.8 328.8,1120.3 329.7,1119.9 330.6,1119.4 331.4,1119.0 332.3,1118.5 333.2,1118.0 334.1,1117.6 335.0,1117.1 335.9,1116.6 336.8,1116.1 337.7,1115.6 338.5,1115.1 339.4,1114.6 340.3,1114.1 341.2,1113.6 342.1,1113.0 343.0,1112.5 343.9,1112.0 344.8,1111.5 345.6,1110.9 346.5,1110.4 347.4,1109.9 348.3,1109.3 349.2,1108.8 350.1,1108.2 351.0,1107.7 351.9,1107.2 352.8,1106.6 353.7,1106.1 354.6,1105.5 355.5,1105.0 356.4,1104.4 357.3,1103.9 358.2,1103.4 359.1,1102.9 360.0,1102.3 360.9,1101.8 361.8,1101.3 362.7,1100.8 363.6,1100.3 364.5,1099.8 365.4,1099.3 366.4,1098.9 367.3,1098.4 368.2,1097.9 369.1,1097.5 370.0,1097.1 370.9,1096.6 371.9,1096.2 372.8,1095.8 373.7,1095.5 374.6,1095.1 375.5,1094.7 376.5,1094.4 377.4,1094.1 378.3,1093.8 379.3,1093.5 380.2,1093.2 381.1,1093.0 382.1,1092.7 383.0,1092.5 383.9,1092.3 384.9,1092.1 385.8,1092.0 386.7,1091.9 387.7,1091.8 388.6,1091.7 389.6,1091.6 390.5,1091.6 391.5,1091.6 392.4,1091.6 393.3,1091.6 394.3,1091.7 395.2,1091.8 396.2,1091.9 397.1,1092.0 398.1,1092.2 399.1,1092.3 400.0,1092.5 401.0,1092.7 401.9,1093.0 402.9,1093.2 403.8,1093.5 404.8,1093.7 405.7,1094.0 406.7,1094.4 407.6,1094.7 408.6,1095.0 409.5,1095.4 410.4,1095.7 411.4,1096.1 412.3,1096.5 413.3,1096.9 414.2,1097.3 415.1,1097.8 416.1,1098.2 417.0,1098.6 417.9,1099.1 418.9,1099.5 419.8,1100.0 420.7,1100.4 421.6,1100.9 422.5,1101.4 423.4,1101.9 424.3,1102.4 425.3,1102.8 426.2,1103.3 427.1,1103.8 428.0,1104.3 428.9,1104.8 429.8,1105.3 430.7,1105.8 431.5,1106.3 432.4,1106.8 433.3,1107.3 434.2,1107.8 435.1,1108.3 436.0,1108.8 436.9,1109.3 437.8,1109.8 438.7,1110.3 439.6,1110.8 440.5,1111.3 441.4,1111.8 442.3,1112.2 443.2,1112.7 444.1,1113.2 445.0,1113.6 445.9,1114.1 446.8,1114.5 447.7,1115.0 448.6,1115.4 449.5,1115.8 450.4,1116.3 451.3,1116.7 452.2,1117.1 453.2,1117.5 454.1,1117.8 455.0,1118.2 455.9,1118.6 456.9,1118.9 457.8,1119.3 458.7,1119.6 459.7,1119.9 460.6,1120.2 461.6,1120.5 462.5,1120.8 463.5,1121.1 464.4,1121.4 465.4,1121.7 466.4,1122.0 467.3,1122.2 468.3,1122.5 469.2,1122.7 470.2,1123.0 471.2,1123.2 472.1,1123.4 473.1,1123.6 474.1,1123.9 475.1,1124.1 476.0,1124.3 477.0,1124.5 478.0,1124.7 479.0,1124.9 480.0,1125.0 480.9,1125.2 481.9,1125.4 482.9,1125.6 483.9,1125.7 484.9,1125.9 485.9,1126.1 486.8,1126.2 487.8,1126.4 488.8,1126.5 489.8,1126.7 490.8,1126.8 491.8,1127.0 492.8,1127.1 493.8,1127.2 494.8,1127.4 495.7,1127.5 496.7,1127.6 497.7,1127.7 498.7,1127.9 499.7,1128.0 500.7,1128.1 501.7,1128.2 502.7,1128.3 503.7,1128.4 504.7,1128.5 505.7,1128.6 506.7,1128.7 507.7,1128.8 508.7,1128.9 509.7,1129.0 510.7,1129.1 511.7,1129.2 512.6,1129.3 513.6,1129.3 514.6,1129.4 515.6,1129.5 516.6,1129.6 517.6,1129.6 518.6,1129.7 519.6,1129.8 520.6,1129.8 521.6,1129.9 522.6,1130.0 523.6,1130.0 524.6,1130.1 525.6,1130.1 526.6,1130.2 527.6,1130.2 528.6,1130.3 529.6,1130.3 530.6,1130.4 531.7,1130.4 532.7,1130.4 533.7,1130.5 534.7,1130.5 535.7,1130.6 536.7,1130.6 537.7,1130.6 538.7,1130.7 539.7,1130.7 540.7,1130.7 541.7,1130.7 542.7,1130.8 543.7,1130.8 544.7,1130.8 545.7,1130.8 546.7,1130.8 547.7,1130.9 548.7,1130.9 549.7,1130.9 550.7,1130.9 551.7,1130.9 552.7,1130.9 553.8,1130.9 554.8,1131.0 555.8,1131.0 556.8,1131.0 557.8,1131.0 558.8,1131.0 559.8,1131.0 560.8,1131.0 561.8,1131.0 562.8,1131.0 563.8,1131.0 564.8,1131.0 565.8,1131.0 566.8,1131.0 567.8,1131.0 568.9,1131.0 569.9,1131.0 570.9,1131.0 571.9,1131.0 572.9,1131.0 573.9,1131.0 574.9,1131.0 575.9,1131.0 576.9,1131.0 577.9,1131.0 578.9,1130.9 579.9,1130.9 580.9,1130.9 581.9,1130.9 582.9,1130.9 584.0,1130.9 585.0,1130.9 586.0,1130.9 587.0,1130.9 588.0,1130.9 589.0,1130.9 590.0,1130.9 591.0,1130.9 592.0,1130.9 593.0,1130.9 594.0,1130.8 595.0,1130.8 596.0,1130.8 597.0,1130.8 598.0,1130.8 599.0,1130.8 600.0,1130.8 601.0,1130.8 602.0,1130.8 603.0,1130.8 604.0,1130.8 605.0,1130.8 606.1,1130.8 607.1,1130.8 608.1,1130.8 609.1,1130.8 610.1,1130.8 611.1,1130.8 612.1,1130.8 613.1,1130.8 614.1,1130.8 615.1,1130.8 616.1,1130.8 617.1,1130.8 618.1,1130.9 619.1,1130.9 620.1,1130.9 621.1,1130.9 622.1,1130.9 623.1,1130.9 624.0,1130.9 625.0,1131.0 626.0,1131.0 627.0,1131.0 628.0,1131.0 629.0,1131.0 630.0,1131.1 631.0,1131.1 632.0,1131.1 633.0,1131.1 634.0,1131.2 635.0,1131.2" stroke="#1a00ff" stroke-width="9"/>
<path d="M104.4,1133.0 105.4,1133.0 106.4,1133.1 107.4,1133.1 108.4,1133.1 109.4,1133.1 110.4,1133.1 111.4,1133.2 112.4,1133.2 113.4,1133.2 114.4,1133.2 115.4,1133.2 116.4,1133.3 117.4,1133.3 118.4,1133.3 119.4,1133.3 120.4,1133.3 121.4,1133.3 122.4,1133.3 123.4,1133.3 124.4,1133.3 125.4,1133.4 126.4,1133.4 127.4,1133.4 128.4,1133.4 129.4,1133.4 130.4,1133.4 131.4,1133.4 132.4,1133.4 133.4,1133.4 134.4,1133.4 135.4,1133.4 136.4,1133.4 137.4,1133.4 138.4,1133.4 139.4,1133.4 140.4,1133.3 141.4,1133.3 142.4,1133.3 143.4,1133.3 144.4,1133.3 145.4,1133.3 146.4,1133.3 147.4,1133.3 148.4,1133.3 149.4,1133.3 150.4,1133.2 151.4,1133.2 152.4,1133.2 153.4,1133.2 154.4,1133.2 155.5,1133.2 156.5,1133.2 157.5,1133.1 158.5,1133.1 159.5,1133.1 160.5,1133.1 161.5,1133.1 162.5,1133.1 163.5,1133.0 164.5,1133.0 165.5,1133.0 166.5,1133.0 167.5,1133.0 168.5,1132.9 169.5,1132.9 170.5,1132.9 171.5,1132.9 172.5,1132.8 173.5,1132.8 174.5,1132.8 175.5,1132.8 176.5,1132.8 177.5,1132.7 178.5,1132.7 179.5,1132.7 180.5,1132.7 181.5,1132.6 182.5,1132.6 183.5,1132.6 184.5,1132.6 185.5,1132.5 186.5,1132.5 187.5,1132.5 188.5,1132.5 189.5,1132.4 190.5,1132.4 191.5,1132.4 192.5,1132.4 193.5,1132.3 194.5,1132.3 195.5,1132.3 196.5,1132.2 197.5,1132.2 198.5,1132.2 199.5,1132.2 200.5,1132.1 201.5,1132.1 202.5,1132.1 203.5,1132.1 204.5,1132.0 205.5,1132.0 206.5,1132.0 207.5,1132.0 208.5,1131.9 209.5,1131.9 210.5,1131.9 211.5,1131.9 212.5,1131.9 213.5,1131.8 214.5,1131.8 215.5,1131.8 216.5,1131.8 217.5,1131.7 218.5,1131.7 219.5,1131.7 220.5,1131.7 221.5,1131.7 222.5,1131.6 223.5,1131.6 224.5,1131.6 225.5,1131.6 226.5,1131.6 227.5,1131.5 228.5,1131.5 229.5,1131.5 230.5,1131.5 231.5,1131.5 232.5,1131.4 233.5,1131.4 234.5,1131.4 235.5,1131.4 236.5,1131.4 237.5,1131.4 238.5,1131.4 239.5,1131.3 240.5,1131.3 241.5,1131.3 242.5,1131.3 243.5,1131.3 244.5,1131.3 245.5,1131.2 246.5,1131.2 247.5,1131.2 248.5,1131.2 249.5,1131.2 250.5,1131.2 251.5,1131.1 252.5,1131.1 253.5,1131.1 254.5,1131.1 255.5,1131.1 256.5,1131.0 257.5,1131.0 258.5,1131.0 259.5,1131.0 260.5,1130.9 261.5,1130.9 262.5,1130.9 263.5,1130.9 264.5,1130.8 265.5,1130.8 266.5,1130.8 267.5,1130.7 268.5,1130.7 269.5,1130.7 270.5,1130.6 271.5,1130.6 272.5,1130.5 273.5,1130.5 274.5,1130.4 275.5,1130.4 276.5,1130.3 277.5,1130.3 278.5,1130.2 279.5,1130.2 280.5,1130.1 281.5,1130.1 282.5,1130.0 283.5,1129.9 284.5,1129.9 285.5,1129.8 286.5,1129.7 287.5,1129.7 288.5,1129.6 289.5,1129.5 290.5,1129.4 291.5,1129.3 292.5,1129.2 293.5,1129.2 294.5,1129.1 295.5,1129.0 296.5,1128.9 297.5,1128.8 298.5,1128.7 299.5,1128.5 300.5,1128.4 301.5,1128.3 302.5,1128.2 303.5,1128.1 304.5,1128.0 305.5,1127.8 306.5,1127.7 307.5,1127.6 308.5,1127.4 309.5,1127.3 310.5,1127.1 311.5,1127.0 312.5,1126.8 313.5,1126.7 314.4,1126.5 315.4,1126.3 316.4,1126.1 317.4,1125.9 318.4,1125.7 319.4,1125.5 320.4,1125.3 321.3,1125.1 322.3,1124.9 323.3,1124.6 324.2,1124.4 325.2,1124.1 326.2,1123.9 327.1,1123.6 328.1,1123.3 329.0,1123.0 330.0,1122.7 330.9,1122.4 331.9,1122.1 332.8,1121.7 333.7,1121.4 334.7,1121.0 335.6,1120.7 336.5,1120.3 337.4,1119.9 338.3,1119.5 339.2,1119.1 340.1,1118.6 341.0,1118.2 341.9,1117.7 342.8,1117.3 343.7,1116.8 344.6,1116.3 345.4,1115.8 346.3,1115.3 347.1,1114.7 348.0,1114.2 348.8,1113.7 349.7,1113.1 350.5,1112.5 351.3,1111.9 352.1,1111.3 352.9,1110.7 353.7,1110.1 354.5,1109.5 355.3,1108.9 356.1,1108.2 356.8,1107.6 357.6,1106.9 358.4,1106.3 359.1,1105.6 359.8,1104.9 360.6,1104.2 361.3,1103.5 362.0,1102.8 362.7,1102.0 363.4,1101.3 364.1,1100.6 364.8,1099.8 365.4,1099.1 366.1,1098.3 366.8,1097.5 367.4,1096.7 368.0,1096.0 368.7,1095.2 369.3,1094.4 369.9,1093.6 370.5,1092.7 371.0,1091.9 371.6,1091.1 372.2,1090.2 372.7,1089.4 373.3,1088.6 373.8,1087.7 374.3,1086.8 374.8,1086.0 375.3,1085.1 375.8,1084.2 376.3,1083.3 376.8,1082.4 377.2,1081.5 377.7,1080.6 378.1,1079.7 378.5,1078.8 378.9,1077.9 379.3,1077.0 379.7,1076.1 380.1,1075.1 380.4,1074.2 380.8,1073.3 381.1,1072.3 381.4,1071.4 381.7,1070.5 382.0,1069.5 382.3,1068.5 382.6,1067.6 382.8,1066.6 383.1,1065.7 383.3,1064.7 383.6,1063.7 383.8,1062.8 384.0,1061.8 384.2,1060.8 384.4,1059.8 384.6,1058.9 384.8,1057.9 385.0,1056.9 385.2,1055.9 385.4,1054.9 385.5,1053.9 385.7,1052.9 385.8,1051.9 386.0,1051.0 386.2,1050.0 386.3,1049.0 386.5,1048.0 386.6,1047.0 386.7,1046.0 386.9,1045.0 387.0,1044.0 387.2,1043.0 387.3,1042.0 387.4,1041.0 387.6,1040.0 387.7,1039.0 387.9,1038.0 388.0,1037.0 388.2,1036.0 388.3,1035.0 388.4,1034.1 388.6,1033.1 388.7,1032.1 388.9,1031.1 389.0,1030.1 389.2,1029.1 389.3,1028.1 389.5,1027.1 389.6,1026.1 389.8,1025.2 389.9,1024.2 390.1,1023.2 390.2,1022.2 390.4,1021.2 390.5,1020.2 390.7,1019.2 390.8,1018.2 391.0,1017.3 391.1,1016.3 391.3,1015.3 391.4,1014.3 391.6,1013.3 391.7,1012.3 391.9,1011.3 392.0,1010.3 392.1,1009.4 392.3,1008.4 392.4,1007.4 392.6,1006.4 392.7,1005.4 392.9,1004.4 393.0,1003.4 393.1,1002.4 393.3,1001.5 393.4,1000.5 393.5,999.5 393.7,998.5 393.8,997.5 394.0,996.5 394.1,995.5 394.2,994.5 394.4,993.5 394.5,992.5 394.6,991.6 394.7,990.6 394.9,989.6 395.0,988.6 395.1,987.6 395.2,986.6 395.4,985.6 395.5,984.6 395.6,983.6 395.7,982.6 395.9,981.6 396.0,980.6 396.1,979.7 396.2,978.7 396.3,977.7 396.5,976.7 396.6,975.7 396.7,974.7 396.8,973.7 396.9,972.7 397.0,971.7 397.2,970.7 397.3,969.7 397.4,968.7 397.5,967.7 397.6,966.7 397.7,965.7 397.8,964.7 397.9,963.7 398.0,962.8 398.1,961.8 398.3,960.8 398.4,959.8 398.5,958.8 398.6,957.8 398.7,956.8 398.8,955.8 398.9,954.8 399.0,953.8 399.1,952.8 399.2,951.8 399.3,950.8 399.4,949.8 399.5,948.8 399.6,947.8 399.7,946.8 399.8,945.8 399.9,944.8 400.0,943.8 400.1,942.8 400.2,941.8 400.3,940.8 400.4,939.8 400.5,938.8 400.6,937.8 400.6,936.8 400.7,935.8 400.8,934.8 400.9,933.8 401.0,932.8 401.1,931.8 401.2,930.8 401.3,929.8 401.4,928.8 401.5,927.8 401.6,926.8 401.6,925.8 401.7,924.8 401.8,923.8 401.9,922.8 402.0,921.8 402.1,920.8 402.2,919.8 402.2,918.8 402.3,917.8 402.4,916.8 402.5,915.8 402.6,914.8 402.7,913.8 402.8,912.8 402.8,911.8 402.9,910.8 403.0,909.8 403.1,908.8 403.2,907.9 403.2,906.9 403.3,905.9 403.4,904.9 403.5,903.9 403.6,902.9 403.6,901.9 403.7,900.9 403.8,899.9 403.9,898.9 404.0,897.9 404.0,896.9 404.1,895.9 404.2,894.9 404.3,893.9 404.4,892.9 404.4,891.9 404.5,890.9 404.6,889.9 404.7,888.9 404.7,887.9 404.8,886.9 404.9,885.9 405.0,884.9 405.0,883.9 405.1,882.9 405.2,881.9 405.3,880.9 405.3,879.9 405.4,878.9 405.5,877.9 405.6,876.9 405.6,875.9 405.7,874.9 405.8,873.9 405.9,872.9 405.9,871.9 406.0,870.9 406.1,869.9 406.1,868.9 406.2,867.9 406.3,866.9 406.4,865.9 406.4,864.9 406.5,863.9 406.6,862.9 406.7,861.9 406.7,860.9 406.8,859.9 406.9,858.9 406.9,857.9 407.0,856.9 407.1,855.9 407.2,854.9 407.2,853.9 407.3,852.9 407.4,851.9 407.5,850.9 407.5,849.9 407.6,848.9 407.7,847.9 407.7,846.9 407.8,845.9 407.9,844.9 408.0,843.9 408.0,842.9 408.1,841.9 408.2,840.9 408.3,839.9 408.3,838.9 408.4,837.9 408.5,836.9 408.5,835.9 408.6,834.9 408.7,833.9 408.8,832.9 408.8,831.9 408.9,830.9 409.0,829.9 409.1,829.0 409.1,828.0 409.2,827.0 409.3,826.0 409.4,825.0 409.4,824.0 409.5,823.0 409.6,822.0 409.7,821.0 409.7,820.0 409.8,819.0 409.9,818.0 410.0,817.0 410.0,816.0 410.1,815.0 410.2,814.0 410.3,813.0 410.3,812.0 410.4,811.1 410.5,810.1 410.6,809.1 410.7,808.1 410.7,807.1 410.8,806.1 410.9,805.1 411.0,804.1 411.0,803.1 411.1,802.1 411.2,801.1 411.3,800.1 411.4,799.1 411.4,798.2 411.5,797.2 411.6,796.2 411.7,795.2 411.8,794.2 411.8,793.2 411.9,792.2 412.0,791.2 412.1,790.2 412.2,789.2 412.3,788.2 412.3,787.3 412.4,786.3 412.5,785.3 412.6,784.3 412.7,783.3 412.7,782.3 412.8,781.3 412.9,780.3 413.0,779.3 413.1,778.3 413.2,777.3 413.2,776.3 413.3,775.4 413.4,774.4 413.5,773.4 413.6,772.4 413.6,771.4 413.7,770.4 413.8,769.4 413.9,768.4 414.0,767.4 414.0,766.4 414.1,765.4 414.2,764.4 414.3,763.4 414.4,762.4 414.5,761.4 414.5,760.4 414.6,759.4 414.7,758.4 414.8,757.4 414.9,756.4 414.9,755.4 415.0,754.4 415.1,753.4 415.2,752.4 415.2,751.4 415.3,750.4 415.4,749.4 415.5,748.4 415.6,747.4 415.6,746.4 415.7,745.4 415.8,744.4 415.9,743.4 415.9,742.4 416.0,741.4 416.1,740.4 416.2,739.4 416.2,738.4 416.3,737.4 416.4,736.4 416.5,735.4 416.5,734.4 416.6,733.4 416.7,732.3 416.8,731.3 416.8,730.3 416.9,729.3 417.0,728.3 417.0,727.3 417.1,726.3 417.2,725.3 417.3,724.2 417.3,723.2 417.4,722.2 417.5,721.2 417.5,720.2 417.6,719.1 417.7,718.1 417.7,717.1 417.8,716.1 417.9,715.1 417.9,714.0 418.0,713.0 418.0,712.0 418.1,711.0 418.2,709.9 418.2,708.9 418.3,707.9 418.3,706.8 418.4,705.8 418.5,704.8 418.5,703.8 418.6,702.7 418.6,701.7 418.7,700.7 418.9,699.7 419.0,698.7 419.2,697.7 419.5,696.8 419.9,695.9 420.4,695.1 421.0,694.3 421.6,693.6 422.3,693.0 423.1,692.7 423.8,692.6 424.5,692.8 425.2,693.3 425.8,693.9 426.4,694.7 427.0,695.6 427.5,696.6 427.9,697.6 428.3,698.7 428.7,699.7 429.0,700.8 429.3,701.8 429.5,702.8 429.7,703.8 429.8,704.8 430.0,705.8 430.2,706.8 430.3,707.8 430.5,708.8 430.6,709.8 430.8,710.8 430.9,711.8 431.1,712.8 431.2,713.8 431.4,714.8 431.5,715.8 431.6,716.8 431.8,717.8 431.9,718.8 432.0,719.7 432.2,720.7 432.3,721.7 432.4,722.7 432.5,723.7 432.6,724.7 432.8,725.7 432.9,726.7 433.0,727.7 433.1,728.6 433.2,729.6 433.3,730.6 433.4,731.6 433.5,732.6 433.6,733.6 433.7,734.6 433.8,735.6 434.0,736.6 434.1,737.6 434.1,738.6 434.2,739.6 434.3,740.5 434.4,741.5 434.5,742.5 434.6,743.5 434.7,744.5 434.8,745.5 434.9,746.5 435.0,747.5 435.1,748.5 435.2,749.5 435.2,750.5 435.3,751.5 435.4,752.5 435.5,753.5 435.6,754.5 435.7,755.4 435.7,756.4 435.8,757.4 435.9,758.4 436.0,759.4 436.1,760.4 436.1,761.4 436.2,762.4 436.3,763.4 436.4,764.4 436.4,765.4 436.5,766.4 436.6,767.4 436.7,768.4 436.7,769.4 436.8,770.4 436.9,771.4 437.0,772.4 437.0,773.4 437.1,774.4 437.2,775.4 437.3,776.4 437.3,777.4 437.4,778.4 437.5,779.4 437.5,780.4 437.6,781.3 437.7,782.3 437.8,783.3 437.8,784.3 437.9,785.3 438.0,786.3 438.0,787.3 438.1,788.3 438.2,789.3 438.2,790.3 438.3,791.3 438.4,792.3 438.4,793.3 438.5,794.3 438.6,795.3 438.7,796.3 438.7,797.3 438.8,798.3 438.9,799.3 438.9,800.3 439.0,801.3 439.1,802.3 439.1,803.3 439.2,804.3 439.3,805.3 439.3,806.3 439.4,807.3 439.5,808.3 439.5,809.3 439.6,810.3 439.7,811.3 439.7,812.3 439.8,813.3 439.8,814.3 439.9,815.3 440.0,816.3 440.0,817.3 440.1,818.3 440.2,819.3 440.2,820.3 440.3,821.3 440.4,822.3 440.4,823.3 440.5,824.3 440.6,825.3 440.6,826.3 440.7,827.3 440.7,828.3 440.8,829.3 440.9,830.3 440.9,831.3 441.0,832.3 441.1,833.3 441.1,834.3 441.2,835.3 441.3,836.3 441.3,837.3 441.4,838.3 441.4,839.3 441.5,840.3 441.6,841.4 441.6,842.4 441.7,843.4 441.8,844.4 441.8,845.4 441.9,846.4 442.0,847.4 442.0,848.4 442.1,849.4 442.1,850.4 442.2,851.4 442.3,852.4 442.3,853.4 442.4,854.4 442.5,855.4 442.5,856.4 442.6,857.4 442.7,858.4 442.7,859.4 442.8,860.4 442.8,861.4 442.9,862.4 443.0,863.4 443.0,864.4 443.1,865.4 443.2,866.4 443.2,867.4 443.3,868.4 443.4,869.4 443.4,870.4 443.5,871.4 443.6,872.4 443.6,873.4 443.7,874.4 443.8,875.4 443.8,876.4 443.9,877.4 444.0,878.4 444.0,879.4 444.1,880.4 444.2,881.4 444.2,882.4 444.3,883.4 444.4,884.4 444.4,885.4 444.5,886.4 444.6,887.4 444.6,888.4 444.7,889.4 444.8,890.4 444.9,891.4 444.9,892.4 445.0,893.4 445.1,894.4 445.1,895.4 445.2,896.4 445.3,897.4 445.3,898.4 445.4,899.4 445.5,900.4 445.6,901.4 445.6,902.4 445.7,903.4 445.8,904.4 445.9,905.4 445.9,906.4 446.0,907.4 446.1,908.4 446.1,909.4 446.2,910.4 446.3,911.4 446.4,912.4 446.4,913.4 446.5,914.4 446.6,915.4 446.7,916.4 446.8,917.4 446.8,918.4 446.9,919.4 447.0,920.4 447.1,921.4 447.1,922.4 447.2,923.4 447.3,924.4 447.4,925.4 447.5,926.4 447.5,927.4 447.6,928.4 447.7,929.4 447.8,930.4 447.9,931.4 448.0,932.4 448.0,933.4 448.1,934.3 448.2,935.3 448.3,936.3 448.4,937.3 448.5,938.3 448.5,939.3 448.6,940.3 448.7,941.3 448.8,942.3 448.9,943.3 449.0,944.3 449.1,945.3 449.2,946.3 449.3,947.3 449.3,948.3 449.4,949.3 449.5,950.3 449.6,951.3 449.7,952.3 449.8,953.3 449.9,954.2 450.0,955.2 450.1,956.2 450.2,957.2 450.3,958.2 450.4,959.2 450.5,960.2 450.6,961.2 450.7,962.2 450.8,963.2 450.9,964.2 451.0,965.2 451.1,966.2 451.2,967.2 451.3,968.1 451.4,969.1 451.5,970.1 451.6,971.1 451.7,972.1 451.8,973.1 451.9,974.1 452.0,975.1 452.1,976.1 452.2,977.1 452.3,978.0 452.4,979.0 452.5,980.0 452.6,981.0 452.7,982.0 452.8,983.0 453.0,984.0 453.1,985.0 453.2,986.0 453.3,986.9 453.4,987.9 453.5,988.9 453.6,989.9 453.8,990.9 453.9,991.9 454.0,992.9 454.1,993.9 454.2,994.8 454.3,995.8 454.5,996.8 454.6,997.8 454.7,998.8 454.8,999.8 455.0,1000.8 455.1,1001.8 455.2,1002.7 455.3,1003.7 455.5,1004.7 455.6,1005.7 455.7,1006.7 455.9,1007.7 456.0,1008.7 456.1,1009.7 456.3,1010.6 456.4,1011.6 456.5,1012.6 456.7,1013.6 456.8,1014.6 457.0,1015.6 457.1,1016.6 457.2,1017.5 457.4,1018.5 457.5,1019.5 457.7,1020.5 457.8,1021.5 458.0,1022.5 458.1,1023.5 458.3,1024.5 458.4,1025.5 458.6,1026.4 458.7,1027.4 458.9,1028.4 459.1,1029.4 459.2,1030.4 459.4,1031.4 459.5,1032.4 459.7,1033.4 459.9,1034.3 460.0,1035.3 460.2,1036.3 460.4,1037.3 460.5,1038.3 460.7,1039.3 460.9,1040.3 461.0,1041.3 461.2,1042.3 461.4,1043.3 461.6,1044.2 461.8,1045.2 461.9,1046.2 462.1,1047.2 462.3,1048.2 462.5,1049.2 462.7,1050.2 462.9,1051.2 463.0,1052.2 463.2,1053.2 463.4,1054.2 463.6,1055.2 463.8,1056.2 464.0,1057.1 464.2,1058.1 464.4,1059.1 464.6,1060.1 464.8,1061.1 465.0,1062.1 465.2,1063.1 465.4,1064.1 465.7,1065.1 465.9,1066.1 466.1,1067.1 466.3,1068.1 466.5,1069.1 466.7,1070.1 467.0,1071.1 467.2,1072.1 467.4,1073.1 467.6,1074.1 467.9,1075.1 468.1,1076.1 468.3,1077.1 468.6,1078.1 468.8,1079.1 469.0,1080.1 469.3,1081.1 469.5,1082.1 469.8,1083.1 470.1,1084.1 470.3,1085.0 470.6,1086.0 470.9,1087.0 471.1,1088.0 471.4,1089.0 471.7,1089.9 472.0,1090.9 472.3,1091.9 472.7,1092.8 473.0,1093.8 473.3,1094.7 473.7,1095.7 474.0,1096.6 474.4,1097.5 474.7,1098.5 475.1,1099.4 475.5,1100.3 475.9,1101.2 476.3,1102.1 476.7,1103.0 477.2,1103.9 477.6,1104.7 478.1,1105.6 478.5,1106.5 479.0,1107.3 479.5,1108.2 480.0,1109.0 480.5,1109.8 481.1,1110.6 481.6,1111.4 482.2,1112.2 482.7,1113.0 483.3,1113.7 483.9,1114.5 484.6,1115.2 485.2,1116.0 485.9,1116.7 486.5,1117.4 487.2,1118.1 487.9,1118.8 488.7,1119.4 489.4,1120.1 490.1,1120.7 490.9,1121.3 491.7,1122.0 492.5,1122.6 493.3,1123.1 494.1,1123.7 495.0,1124.2 495.8,1124.8 496.7,1125.3 497.5,1125.8 498.4,1126.2 499.3,1126.7 500.2,1127.1 501.1,1127.5 502.0,1127.9 503.0,1128.3 503.9,1128.7 504.8,1129.0 505.8,1129.3 506.7,1129.6 507.7,1129.9 508.7,1130.1 509.6,1130.4 510.6,1130.6 511.6,1130.8 512.6,1130.9 513.6,1131.1 514.6,1131.2 515.6,1131.3 516.6,1131.3 517.6,1131.4 518.6,1131.4 519.6,1131.5 520.6,1131.5 521.6,1131.5 522.6,1131.5 523.6,1131.4 524.6,1131.4 525.7,1131.3 526.7,1131.3 527.7,1131.2 528.7,1131.1 529.7,1131.1 530.8,1131.0 531.8,1130.9 532.8,1130.8 533.8,1130.7 534.9,1130.6 535.9,1130.5 536.9,1130.4 537.9,1130.3 539.0,1130.3 540.0,1130.2 541.0,1130.1 542.0,1130.0 543.0,1130.0 544.0,1129.9 545.0,1129.8 546.1,1129.8 547.1,1129.7 548.1,1129.7 549.1,1129.6 550.1,1129.6 551.1,1129.6 552.1,1129.5 553.1,1129.5 554.1,1129.5 555.1,1129.5 556.1,1129.4 557.1,1129.4 558.1,1129.4 559.1,1129.4 560.1,1129.4 561.1,1129.4 562.1,1129.4 563.1,1129.4 564.1,1129.4 565.1,1129.4 566.1,1129.5 567.1,1129.5 568.1,1129.5 569.1,1129.5 570.0,1129.5 571.0,1129.5 572.0,1129.6 573.0,1129.6 574.0,1129.6 575.0,1129.7 576.0,1129.7 577.0,1129.7 578.0,1129.7 579.0,1129.8 579.9,1129.8 580.9,1129.9 581.9,1129.9 582.9,1129.9 583.9,1130.0 584.9,1130.0 585.9,1130.0 586.9,1130.1 587.8,1130.1 588.8,1130.1 589.8,1130.2 590.8,1130.2 591.8,1130.3 592.8,1130.3 593.8,1130.3 594.8,1130.4 595.8,1130.4 596.8,1130.4 597.7,1130.5 598.7,1130.5 599.7,1130.5 600.7,1130.6 601.7,1130.6 602.7,1130.6 603.7,1130.6 604.7,1130.7 605.7,1130.7 606.7,1130.7 607.7,1130.7 608.7,1130.7 609.7,1130.7 610.7,1130.8 611.7,1130.8 612.7,1130.8 613.7,1130.8 614.7,1130.8 615.7,1130.8 616.7,1130.8 617.7,1130.7 618.7,1130.7 619.7,1130.7 620.7,1130.7 621.7,1130.7 622.7,1130.6 623.8,1130.6 624.8,1130.6 625.8,1130.5 626.8,1130.5 627.8,1130.5 628.8,1130.4 629.9,1130.3 630.9,1130.3 631.9,1130.2 632.9,1130.2 634.0,1130.1 635.0,1130.0" stroke="#ff1f0f" stroke-width="9"/>
<path d="M104.4,1133 L440,1132.8 Q560,1132.2 636,1129.2" stroke="#000" stroke-width="8.8" stroke-linecap="butt"/>
<path d="M104,1133 L440,1132.8 Q560,1132.2 636,1129.2" stroke="#45ff0a" stroke-width="8.8" stroke-dasharray="38 52.5"/>
</g>
<g clip-path="url(#cc0)" fill="none" stroke-linejoin="round" stroke-linecap="round">
<path d="M778.8,255.8 779.8,255.9 780.8,256.1 781.8,256.2 782.8,256.3 783.8,256.5 784.8,256.6 785.8,256.7 786.7,256.9 787.7,257.0 788.7,257.2 789.7,257.3 790.7,257.5 791.7,257.6 792.7,257.8 793.7,257.9 794.7,258.1 795.7,258.2 796.6,258.4 797.6,258.5 798.6,258.7 799.6,258.8 800.6,259.0 801.6,259.1 802.6,259.3 803.6,259.4 804.5,259.6 805.5,259.8 806.5,259.9 807.5,260.1 808.5,260.2 809.5,260.4 810.5,260.6 811.5,260.7 812.4,260.9 813.4,261.0 814.4,261.2 815.4,261.3 816.4,261.5 817.4,261.7 818.4,261.8 819.3,262.0 820.3,262.1 821.3,262.3 822.3,262.4 823.3,262.6 824.3,262.7 825.3,262.9 826.2,263.0 827.2,263.2 828.2,263.3 829.2,263.5 830.2,263.6 831.2,263.8 832.2,263.9 833.1,264.1 834.1,264.2 835.1,264.3 836.1,264.5 837.1,264.6 838.1,264.8 839.1,264.9 840.1,265.0 841.1,265.2 842.0,265.3 843.0,265.4 844.0,265.5 845.0,265.6 846.0,265.8 847.0,265.9 848.0,266.0 849.0,266.1 850.0,266.2 850.9,266.3 851.9,266.4 852.9,266.5 853.9,266.6 854.9,266.7 855.9,266.8 856.9,266.9 857.9,267.0 858.9,267.1 859.9,267.2 860.9,267.3 861.9,267.3 862.9,267.4 863.9,267.5 864.9,267.5 865.9,267.6 866.9,267.7 867.9,267.7 868.9,267.8 869.9,267.8 870.9,267.9 871.9,267.9 872.9,267.9 873.9,268.0 874.9,268.0 875.9,268.0 876.9,268.1 877.9,268.1 878.9,268.1 879.9,268.1 880.9,268.1 881.9,268.1 882.9,268.1 883.9,268.1 884.9,268.1 885.9,268.1 886.9,268.0 887.9,268.0 888.9,268.0 889.9,267.9 891.0,267.9 892.0,267.9 893.0,267.8 894.0,267.7 895.0,267.7 896.0,267.6 897.0,267.5 898.0,267.4 899.0,267.3 900.0,267.2 901.0,267.1 902.0,267.0 903.0,266.9 904.0,266.8 905.0,266.6 906.0,266.5 907.0,266.3 908.0,266.2 909.0,266.0 910.0,265.8 910.9,265.6 911.9,265.4 912.9,265.2 913.9,265.0 914.8,264.8 915.8,264.5 916.8,264.3 917.7,264.0 918.7,263.8 919.7,263.5 920.6,263.2 921.6,262.9 922.5,262.6 923.4,262.3 924.4,261.9 925.3,261.6 926.2,261.2 927.1,260.9 928.1,260.5 929.0,260.1 929.9,259.7 930.8,259.3 931.7,258.8 932.6,258.4 933.4,257.9 934.3,257.5 935.2,257.0 936.1,256.5 936.9,256.0 937.8,255.5 938.6,254.9 939.5,254.4 940.3,253.8 941.1,253.2 942.0,252.6 942.8,252.0 943.6,251.4 944.4,250.8 945.2,250.1 945.9,249.5 946.7,248.8 947.5,248.1 948.2,247.5 948.9,246.8 949.7,246.0 950.4,245.3 951.1,244.6 951.8,243.9 952.4,243.1 953.1,242.3 953.8,241.6 954.4,240.8 955.0,240.0 955.6,239.2 956.2,238.4 956.8,237.6 957.4,236.8 957.9,235.9 958.5,235.1 959.0,234.2 959.5,233.4 960.0,232.5 960.5,231.7 961.0,230.8 961.4,229.9 961.9,229.0 962.3,228.1 962.8,227.2 963.2,226.3 963.6,225.4 964.0,224.5 964.4,223.6 964.8,222.7 965.2,221.8 965.6,220.9 966.0,219.9 966.3,219.0 966.7,218.1 967.0,217.1 967.4,216.2 967.7,215.3 968.1,214.3 968.4,213.4 968.7,212.4 969.1,211.5 969.4,210.6 969.7,209.6 970.1,208.7 970.4,207.7 970.7,206.8 971.0,205.9 971.3,204.9 971.6,204.0 972.0,203.0 972.3,202.1 972.6,201.2 972.9,200.2 973.2,199.3 973.5,198.3 973.8,197.4 974.1,196.4 974.4,195.5 974.7,194.6 975.0,193.6 975.3,192.7 975.5,191.7 975.8,190.8 976.1,189.8 976.4,188.9 976.7,187.9 977.0,187.0 977.2,186.0 977.5,185.1 977.8,184.1 978.0,183.1 978.3,182.2 978.6,181.2 978.8,180.3 979.1,179.3 979.4,178.3 979.6,177.4 979.9,176.4 980.1,175.4 980.4,174.4 980.6,173.5 980.9,172.5 981.1,171.5 981.4,170.5 981.6,169.5 981.8,168.5 982.1,167.6 982.3,166.6 982.5,165.6 982.8,164.6 983.0,163.6 983.2,162.6 983.4,161.6 983.7,160.6 983.9,159.6 984.1,158.6 984.3,157.6 984.5,156.6 984.7,155.6 984.9,154.6 985.2,153.6 985.4,152.6 985.6,151.6 985.8,150.6 986.0,149.6 986.2,148.6 986.4,147.6 986.6,146.6 986.8,145.6 986.9,144.6 987.1,143.7 987.3,142.7 987.5,141.7 987.7,140.7 987.9,139.7 988.1,138.7 988.2,137.7 988.4,136.8 988.6,135.8 988.8,134.8 989.0,133.8 989.1,132.9 989.3,131.9 989.5,130.9 989.6,130.0 989.8,129.0 990.0,128.1 990.1,127.1 990.3,126.2 990.5,125.2 990.6,124.3 990.8,123.4 990.9,122.4 991.1,121.5 991.2,120.6 991.4,119.7 991.5,118.8 991.7,117.9 991.8,117.0 992.0,116.1 992.1,115.2 992.3,114.2 992.4,113.3 992.6,112.4 992.7,111.4 992.8,110.5 993.0,109.5 993.1,108.5 993.2,107.4 993.3,106.3 993.4,105.2 993.5,104.1 993.6,102.9 993.7,101.7 993.8,100.4 993.9,99.0 994.0,97.7 994.1,96.4 994.3,95.2 994.5,94.2 994.8,93.5 995.2,93.1 995.7,93.0 996.4,93.4 997.1,94.1 997.7,95.0 998.3,95.8 998.7,96.8 999.1,97.7 999.4,98.7 999.6,99.7 999.8,100.8 999.9,101.8 1000.0,102.8 1000.0,103.9 1000.1,104.9 1000.2,106.0 1000.2,107.0 1000.3,108.1 1000.4,109.1 1000.4,110.1 1000.5,111.1 1000.6,112.1 1000.7,113.1 1000.8,114.1 1000.8,115.1 1000.9,116.1 1001.0,117.1 1001.1,118.1 1001.2,119.1 1001.3,120.1 1001.4,121.1 1001.4,122.1 1001.5,123.0 1001.6,124.0 1001.7,125.0 1001.8,126.0 1001.9,127.0 1001.9,128.0 1002.0,128.9 1002.1,129.9 1002.2,130.9 1002.3,131.9 1002.3,132.9 1002.4,133.9 1002.5,134.9 1002.5,135.8 1002.6,136.8 1002.7,137.8 1002.8,138.8 1002.8,139.8 1002.9,140.8 1003.0,141.8 1003.0,142.8 1003.1,143.8 1003.2,144.8 1003.2,145.7 1003.3,146.7 1003.3,147.7 1003.4,148.7 1003.5,149.7 1003.5,150.7 1003.6,151.7 1003.6,152.7 1003.7,153.7 1003.8,154.7 1003.8,155.7 1003.9,156.7 1003.9,157.7 1004.0,158.7 1004.0,159.7 1004.1,160.7 1004.1,161.7 1004.2,162.7 1004.3,163.7 1004.3,164.7 1004.4,165.7 1004.4,166.7 1004.5,167.7 1004.5,168.7 1004.6,169.7 1004.6,170.7 1004.7,171.7 1004.7,172.7 1004.8,173.7 1004.8,174.7 1004.9,175.7 1004.9,176.7 1005.0,177.7 1005.1,178.7 1005.1,179.7 1005.2,180.7 1005.2,181.7 1005.3,182.7 1005.3,183.7 1005.4,184.7 1005.4,185.7 1005.5,186.7 1005.5,187.7 1005.6,188.7 1005.6,189.7 1005.7,190.7 1005.7,191.7 1005.8,192.7 1005.9,193.7 1005.9,194.7 1006.0,195.7 1006.0,196.7 1006.1,197.7 1006.1,198.7 1006.2,199.8 1006.2,200.8 1006.3,201.8 1006.3,202.8 1006.4,203.8 1006.5,204.8 1006.5,205.8 1006.6,206.8 1006.6,207.8 1006.7,208.8 1006.8,209.8 1006.8,210.8 1006.9,211.8 1006.9,212.8 1007.0,213.8 1007.0,214.8 1007.1,215.8 1007.2,216.8 1007.2,217.8 1007.3,218.8 1007.4,219.8 1007.4,220.8 1007.5,221.8 1007.5,222.8 1007.6,223.8 1007.7,224.8 1007.7,225.8 1007.8,226.8 1007.9,227.8 1007.9,228.8 1008.0,229.8 1008.1,230.8 1008.1,231.8 1008.2,232.8 1008.3,233.8 1008.3,234.8 1008.4,235.8 1008.5,236.8 1008.6,237.8 1008.6,238.8 1008.7,239.8 1008.8,240.8 1008.9,241.8 1008.9,242.8 1009.0,243.8 1009.1,244.8 1009.2,245.8 1009.2,246.8 1009.3,247.8 1009.4,248.8 1009.5,249.8 1009.5,250.8 1009.6,251.8 1009.7,252.7 1009.8,253.7 1009.9,254.7 1010.0,255.7 1010.0,256.7 1010.1,257.7 1010.2,258.7 1010.3,259.7 1010.4,260.7 1010.5,261.7 1010.6,262.6 1010.7,263.6 1010.8,264.6 1010.9,265.6 1011.0,266.6 1011.0,267.6 1011.1,268.6 1011.2,269.5 1011.3,270.5 1011.4,271.5 1011.5,272.5 1011.6,273.5 1011.7,274.5 1011.8,275.4 1011.9,276.4 1012.1,277.4 1012.2,278.4 1012.3,279.3 1012.4,280.3 1012.5,281.3 1012.6,282.3 1012.7,283.3 1012.8,284.2 1012.9,285.2 1013.0,286.2 1013.2,287.2 1013.3,288.1 1013.4,289.1 1013.5,290.1 1013.6,291.1 1013.8,292.0 1013.9,293.0 1014.0,294.0 1014.1,295.0 1014.3,295.9 1014.4,296.9 1014.5,297.9 1014.7,298.9 1014.8,299.9 1015.0,300.8 1015.1,301.8 1015.2,302.8 1015.4,303.8 1015.5,304.8 1015.7,305.8 1015.8,306.8 1016.0,307.8 1016.1,308.8 1016.3,309.8 1016.5,310.8 1016.6,311.8 1016.8,312.8 1016.9,313.8 1017.1,314.8 1017.3,315.8 1017.5,316.8 1017.6,317.8 1017.8,318.8 1018.0,319.9 1018.2,320.9 1018.4,321.9 1018.5,322.9 1018.7,324.0 1018.9,325.0 1019.1,326.1 1019.3,327.1 1019.5,328.1 1019.8,329.2 1020.0,330.2 1020.2,331.3 1020.5,332.3 1020.7,333.3 1021.0,334.3 1021.3,335.3 1021.6,336.3 1021.9,337.3 1022.2,338.3 1022.6,339.2 1023.0,340.2 1023.4,341.1 1023.8,342.0 1024.2,342.9 1024.7,343.8 1025.2,344.6 1025.8,345.4 1026.3,346.2 1026.9,347.0 1027.5,347.7 1028.2,348.4 1028.9,349.1 1029.6,349.8 1030.4,350.4 1031.2,351.0 1032.0,351.5 1032.9,352.0 1033.7,352.5 1034.6,353.0 1035.5,353.4 1036.5,353.8 1037.4,354.2 1038.4,354.5 1039.3,354.8 1040.3,355.1 1041.2,355.3 1042.2,355.6 1043.2,355.7 1044.1,355.9 1045.1,356.0 1046.1,356.1 1047.1,356.2 1048.0,356.3 1049.0,356.3 1050.0,356.3 1051.0,356.3 1052.0,356.3 1052.9,356.2 1053.9,356.2 1054.9,356.1 1055.9,356.0 1056.9,355.9 1057.9,355.8 1058.9,355.7 1059.9,355.6 1060.9,355.5 1061.9,355.3 1062.9,355.2 1063.9,355.1 1064.9,354.9 1065.9,354.8 1066.9,354.6 1067.9,354.5 1068.9,354.4 1069.9,354.2 1070.9,354.1 1071.9,354.0 1072.9,353.9 1074.0,353.8 1075.0,353.7 1076.0,353.6 1077.0,353.5 1078.0,353.5 1079.0,353.4 1080.0,353.4 1081.0,353.4 1082.0,353.4 1083.0,353.4 1084.0,353.5 1085.1,353.5 1086.1,353.6 1087.1,353.7 1088.1,353.7 1089.1,353.8 1090.1,353.9 1091.1,354.0 1092.1,354.1 1093.1,354.3 1094.1,354.4 1095.2,354.5 1096.2,354.6 1097.2,354.8 1098.2,354.9 1099.2,355.0 1100.2,355.2 1101.2,355.3 1102.2,355.4 1103.2,355.6 1104.2,355.7 1105.2,355.8 1106.2,355.9 1107.2,356.1 1108.2,356.2 1109.2,356.3 1110.2,356.4 1111.2,356.5 1112.2,356.5 1113.2,356.6 1114.2,356.7 1115.2,356.7 1116.2,356.7 1117.2,356.7 1118.2,356.8 1119.2,356.7 1120.2,356.7 1121.2,356.7 1122.1,356.6 1123.1,356.5 1124.1,356.4 1125.1,356.3 1126.1,356.2 1127.1,356.1 1128.0,355.9 1129.0,355.7 1130.0,355.5 1131.0,355.3 1131.9,355.1 1132.9,354.8 1133.8,354.6 1134.8,354.3 1135.7,354.0 1136.7,353.7 1137.6,353.4 1138.6,353.1 1139.5,352.7 1140.4,352.3 1141.4,352.0 1142.3,351.6 1143.2,351.2 1144.1,350.7 1145.0,350.3 1145.9,349.8 1146.8,349.4 1147.6,348.9 1148.5,348.4 1149.4,347.9 1150.2,347.4 1151.1,346.9 1151.9,346.3 1152.7,345.8 1153.6,345.2 1154.4,344.6 1155.2,344.0 1156.0,343.4 1156.8,342.8 1157.5,342.2 1158.3,341.5 1159.1,340.9 1159.8,340.2 1160.5,339.5 1161.3,338.9 1162.0,338.2 1162.7,337.5 1163.4,336.7 1164.1,336.0 1164.7,335.3 1165.4,334.5 1166.0,333.8 1166.7,333.0 1167.3,332.2 1167.9,331.5 1168.5,330.7 1169.1,329.9 1169.7,329.1 1170.2,328.2 1170.8,327.4 1171.4,326.6 1171.9,325.8 1172.4,324.9 1173.0,324.1 1173.5,323.2 1174.0,322.3 1174.5,321.5 1175.0,320.6 1175.5,319.7 1176.0,318.8 1176.4,318.0 1176.9,317.1 1177.4,316.2 1177.8,315.3 1178.3,314.4 1178.7,313.5 1179.2,312.6 1179.6,311.7 1180.1,310.8 1180.5,309.8 1180.9,308.9 1181.4,308.0 1181.8,307.1 1182.2,306.2 1182.6,305.3 1183.0,304.3 1183.4,303.4 1183.9,302.5 1184.3,301.6 1184.7,300.7 1185.1,299.7 1185.5,298.8 1185.9,297.9 1186.3,297.0 1186.7,296.0 1187.1,295.1 1187.4,294.2 1187.8,293.2 1188.2,292.3 1188.6,291.4 1189.0,290.5 1189.3,289.5 1189.7,288.6 1190.1,287.6 1190.4,286.7 1190.8,285.8 1191.2,284.8 1191.5,283.9 1191.9,283.0 1192.3,282.0 1192.6,281.1 1193.0,280.1 1193.3,279.2 1193.7,278.3 1194.0,277.3 1194.4,276.4 1194.7,275.4 1195.0,274.5 1195.4,273.5 1195.7,272.6 1196.0,271.6 1196.4,270.7 1196.7,269.7 1197.0,268.8 1197.4,267.8 1197.7,266.9 1198.0,265.9 1198.3,265.0 1198.7,264.0 1199.0,263.1 1199.3,262.1 1199.6,261.2 1199.9,260.2 1200.2,259.3 1200.5,258.3 1200.8,257.4 1201.1,256.4 1201.5,255.5 1201.8,254.5 1202.1,253.6 1202.4,252.6 1202.7,251.6 1203.0,250.7 1203.3,249.7 1203.6,248.8 1203.8,247.8 1204.1,246.9 1204.4,245.9 1204.7,244.9 1205.0,244.0 1205.3,243.0 1205.6,242.1 1205.9,241.1 1206.2,240.1 1206.4,239.2 1206.7,238.2 1207.0,237.3 1207.3,236.3 1207.6,235.4 1207.8,234.4 1208.1,233.4 1208.4,232.5 1208.7,231.5 1209.0,230.6 1209.2,229.6 1209.5,228.6 1209.8,227.7 1210.0,226.7 1210.3,225.8 1210.6,224.8 1210.9,223.8 1211.1,222.9 1211.4,221.9 1211.7,221.0 1211.9,220.0 1212.2,219.0 1212.5,218.1 1212.7,217.1 1213.0,216.2 1213.3,215.2 1213.5,214.2 1213.8,213.3 1214.1,212.3 1214.3,211.4 1214.6,210.4 1214.8,209.5 1215.1,208.5 1215.4,207.5 1215.6,206.6 1215.9,205.6 1216.2,204.7 1216.4,203.7 1216.7,202.8 1216.9,201.8 1217.2,200.8 1217.5,199.9 1217.7,198.9 1218.0,198.0 1218.3,197.0 1218.5,196.1 1218.8,195.1 1219.0,194.1 1219.3,193.2 1219.6,192.2 1219.8,191.3 1220.1,190.3 1220.3,189.4 1220.6,188.4 1220.9,187.4 1221.1,186.5 1221.4,185.5 1221.7,184.6 1221.9,183.6 1222.2,182.7 1222.5,181.7 1222.7,180.8 1223.0,179.8 1223.3,178.8 1223.5,177.9 1223.8,176.9 1224.1,176.0 1224.3,175.0 1224.6,174.1 1224.9,173.1 1225.1,172.2 1225.4,171.2 1225.7,170.2 1226.0,169.3 1226.2,168.3 1226.5,167.4 1226.8,166.4 1227.1,165.5 1227.3,164.5 1227.6,163.6 1227.9,162.6 1228.2,161.7 1228.5,160.7 1228.7,159.8 1229.0,158.8 1229.3,157.8 1229.6,156.9 1229.9,155.9 1230.2,155.0 1230.5,154.0 1230.8,153.1 1231.1,152.1 1231.3,151.2 1231.6,150.2 1231.9,149.3 1232.2,148.3 1232.5,147.4 1232.8,146.4 1233.1,145.5 1233.4,144.5 1233.7,143.6 1234.0,142.6 1234.3,141.6 1234.7,140.7 1235.0,139.7 1235.3,138.8 1235.6,137.8 1235.9,136.9 1236.2,135.9 1236.5,135.0 1236.9,134.0 1237.2,133.1 1237.5,132.1 1237.8,131.2 1238.2,130.2 1238.5,129.3 1238.8,128.3 1239.2,127.4 1239.5,126.4 1239.8,125.5 1240.2,124.5 1240.5,123.6 1240.8,122.6 1241.2,121.7 1241.5,120.7 1241.9,119.8 1242.2,118.8 1242.6,117.9 1242.9,116.9 1243.3,116.0 1243.7,115.0 1244.0,114.1 1244.4,113.1 1244.7,112.2 1245.1,111.2 1245.5,110.3 1245.9,109.3 1246.2,108.4 1246.6,107.4 1247.0,106.5 1247.4,105.5 1247.8,104.6 1248.1,103.7 1248.5,102.7 1248.9,101.8 1249.3,100.8 1249.7,99.9 1250.1,98.9 1250.5,98.0 1250.9,97.0 1251.4,96.1 1251.8,95.2 1252.2,94.2 1252.6,93.3 1253.1,92.4 1253.5,91.4 1253.9,90.5 1254.4,89.6 1254.8,88.7 1255.3,87.8 1255.7,86.9 1256.2,85.9 1256.6,85.0 1257.1,84.1 1257.6,83.3 1258.1,82.4 1258.6,81.5 1259.0,80.6 1259.5,79.7 1260.0,78.8 1260.6,78.0 1261.1,77.1 1261.6,76.3 1262.1,75.4 1262.6,74.6 1263.2,73.7 1263.7,72.9 1264.3,72.1 1264.9,71.3 1265.4,70.5 1266.0,69.7 1266.6,68.9 1267.2,68.1 1267.8,67.3 1268.4,66.5 1269.0,65.8 1269.6,65.0 1270.2,64.3 1270.9,63.5 1271.5,62.8 1272.1,62.1 1272.8,61.4 1273.5,60.7 1274.2,60.0 1274.8,59.3 1275.5,58.7 1276.2,58.0 1276.9,57.3 1277.7,56.7 1278.4,56.1 1279.1,55.5 1279.9,54.8 1280.6,54.3 1281.4,53.7 1282.2,53.1 1283.0,52.5 1283.8,52.0 1284.6,51.5 1285.4,50.9 1286.2,50.4 1287.1,49.9 1287.9,49.4 1288.8,48.9 1289.7,48.5 1290.5,48.0 1291.4,47.6 1292.3,47.2 1293.2,46.7 1294.1,46.3 1295.0,45.9 1295.9,45.5 1296.9,45.2 1297.8,44.8 1298.8,44.4 1299.7,44.1 1300.7,43.8 1301.6,43.4 1302.6,43.1 1303.6,42.8 1304.5,42.5 1305.5,42.2 1306.5,41.9 1307.5,41.7 1308.5,41.4 1309.5,41.2 1310.5,40.9 1311.5,40.7 1312.5,40.5 1313.5,40.2 1314.5,40.0 1315.5,39.8 1316.6,39.6 1317.6,39.4 1318.6,39.3 1319.6,39.1 1320.6,38.9 1321.7,38.8 1322.7,38.6 1323.7,38.5 1324.7,38.4 1325.8,38.2 1326.8,38.1 1327.8,38.0 1328.8,37.9 1329.9,37.8 1330.9,37.7 1331.9,37.6 1332.9,37.5 1333.9,37.5 1335.0,37.4 1336.0,37.3 1337.0,37.3 1338.0,37.2 1339.0,37.2 1340.0,37.1 1341.0,37.1 1342.0,37.0 1343.0,37.0 1344.0,37.0 1344.9,37.0 1345.9,37.0 1346.9,36.9 1347.9,36.9 1348.9,36.9 1349.9,36.9 1350.8,36.9 1351.8,36.9 1352.8,36.9 1353.8,36.9 1354.8,37.0 1355.7,37.0 1356.7,37.0 1357.7,37.0 1358.7,37.0 1359.6,37.0 1360.6,37.1 1361.6,37.1 1362.6,37.1 1363.5,37.1 1364.5,37.2 1365.5,37.2 1366.5,37.2 1367.5,37.3 1368.4,37.3 1369.4,37.3 1370.4,37.4 1371.4,37.4 1372.4,37.4 1373.4,37.4 1374.4,37.5 1375.4,37.5 1376.3,37.5 1377.3,37.6 1378.3,37.6 1379.3,37.6 1380.3,37.6 1381.3,37.7 1382.3,37.7 1383.3,37.7 1384.3,37.7 1385.3,37.8 1386.3,37.8 1387.3,37.8 1388.3,37.9 1389.3,37.9 1390.4,37.9 1391.4,37.9 1392.4,37.9 1393.4,38.0 1394.4,38.0 1395.4,38.0 1396.4,38.0 1397.4,38.1 1398.4,38.1 1399.4,38.1 1400.4,38.1 1401.5,38.1 1402.5,38.2 1403.5,38.2 1404.5,38.2 1405.5,38.2 1406.5,38.2 1407.5,38.2 1408.5,38.3 1409.5,38.3 1410.6,38.3 1411.6,38.3 1412.6,38.3 1413.6,38.3 1414.6,38.3 1415.6,38.3 1416.6,38.4 1417.6,38.4 1418.6,38.4 1419.6,38.4 1420.6,38.4 1421.6,38.4 1422.7,38.4 1423.7,38.4 1424.7,38.4 1425.7,38.4 1426.7,38.4 1427.7,38.4 1428.7,38.4 1429.7,38.4 1430.7,38.4 1431.7,38.4 1432.7,38.4 1433.7,38.4 1434.6,38.4 1435.6,38.4 1436.6,38.4 1437.6,38.4 1438.6,38.4 1439.6,38.4 1440.6,38.4 1441.6,38.4 1442.6,38.3 1443.5,38.3 1444.5,38.3 1445.5,38.3" stroke="#1a00ff" stroke-width="10.5"/>
</g>
<g clip-path="url(#cc1)" fill="none" stroke-linejoin="round" stroke-linecap="round">
<path d="M778.6,601.8 779.5,601.3 780.3,600.8 781.2,600.3 782.0,599.8 782.9,599.3 783.8,598.8 784.6,598.3 785.5,597.8 786.3,597.2 787.2,596.7 788.0,596.2 788.9,595.6 789.7,595.1 790.5,594.6 791.4,594.0 792.2,593.5 793.1,592.9 793.9,592.4 794.7,591.8 795.5,591.2 796.4,590.7 797.2,590.1 798.0,589.5 798.8,588.9 799.6,588.3 800.4,587.8 801.3,587.2 802.1,586.6 802.9,586.0 803.7,585.4 804.5,584.8 805.3,584.2 806.1,583.5 806.9,582.9 807.6,582.3 808.4,581.7 809.2,581.1 810.0,580.4 810.8,579.8 811.5,579.2 812.3,578.5 813.1,577.9 813.8,577.2 814.6,576.6 815.4,575.9 816.1,575.2 816.9,574.6 817.6,573.9 818.4,573.3 819.1,572.6 819.9,571.9 820.6,571.2 821.3,570.5 822.0,569.9 822.8,569.2 823.5,568.5 824.2,567.8 824.9,567.1 825.6,566.4 826.4,565.7 827.1,565.0 827.8,564.2 828.5,563.5 829.2,562.8 829.8,562.1 830.5,561.4 831.2,560.6 831.9,559.9 832.6,559.2 833.2,558.4 833.9,557.7 834.6,556.9 835.2,556.2 835.9,555.4 836.5,554.7 837.2,553.9 837.8,553.2 838.5,552.4 839.1,551.6 839.7,550.9 840.4,550.1 841.0,549.3 841.6,548.5 842.2,547.7 842.8,547.0 843.4,546.2 844.0,545.4 844.6,544.6 845.2,543.8 845.8,543.0 846.4,542.2 847.0,541.4 847.6,540.6 848.1,539.8 848.7,539.0 849.3,538.1 849.9,537.3 850.4,536.5 851.0,535.7 851.5,534.9 852.1,534.0 852.7,533.2 853.2,532.4 853.8,531.6 854.3,530.7 854.9,529.9 855.4,529.1 855.9,528.2 856.5,527.4 857.0,526.5 857.6,525.7 858.1,524.9 858.6,524.0 859.2,523.2 859.7,522.3 860.2,521.5 860.8,520.6 861.3,519.8 861.8,518.9 862.4,518.1 862.9,517.2 863.4,516.4 864.0,515.5 864.5,514.7 865.0,513.8 865.6,513.0 866.1,512.1 866.6,511.3 867.2,510.4 867.7,509.6 868.2,508.7 868.8,507.9 869.3,507.0 869.8,506.1 870.4,505.3 870.9,504.4 871.5,503.6 872.0,502.7 872.6,501.9 873.1,501.0 873.7,500.2 874.2,499.3 874.8,498.5 875.3,497.6 875.9,496.8 876.5,495.9 877.0,495.1 877.6,494.3 878.2,493.5 878.8,492.7 879.5,491.9 880.1,491.1 880.8,490.3 881.5,489.6 882.2,488.9 883.0,488.2 883.8,487.5 884.6,486.9 885.4,486.3 886.3,485.7 887.2,485.3 888.2,484.9 889.1,484.6 890.0,484.5 891.0,484.4 892.0,484.6 892.9,484.8 893.8,485.1 894.7,485.6 895.5,486.1 896.3,486.7 897.0,487.4 897.6,488.1 898.2,488.9 898.8,489.8 899.2,490.6 899.7,491.5 900.1,492.4 900.5,493.4 900.9,494.3 901.2,495.3 901.6,496.3 902.0,497.2 902.3,498.2 902.7,499.2 903.0,500.1 903.3,501.1 903.7,502.1 904.0,503.1 904.3,504.0 904.7,505.0 905.0,506.0 905.3,506.9 905.6,507.9 905.9,508.9 906.2,509.8 906.5,510.8 906.8,511.8 907.1,512.7 907.4,513.7 907.7,514.7 908.0,515.7 908.3,516.6 908.6,517.6 908.9,518.6 909.1,519.5 909.4,520.5 909.7,521.5 909.9,522.5 910.2,523.4 910.5,524.4 910.7,525.4 911.0,526.3 911.2,527.3 911.5,528.3 911.7,529.3 912.0,530.2 912.2,531.2 912.5,532.2 912.7,533.2 912.9,534.1 913.2,535.1 913.4,536.1 913.6,537.1 913.9,538.0 914.1,539.0 914.3,540.0 914.5,541.0 914.8,541.9 915.0,542.9 915.2,543.9 915.4,544.9 915.6,545.8 915.8,546.8 916.0,547.8 916.2,548.8 916.4,549.7 916.7,550.7 916.9,551.7 917.1,552.7 917.3,553.6 917.5,554.6 917.7,555.6 917.8,556.6 918.0,557.5 918.2,558.5 918.4,559.5 918.6,560.5 918.8,561.4 919.0,562.4 919.2,563.4 919.4,564.4 919.6,565.4 919.7,566.3 919.9,567.3 920.1,568.3 920.3,569.3 920.5,570.3 920.7,571.2 920.8,572.2 921.0,573.2 921.2,574.2 921.4,575.1 921.5,576.1 921.7,577.1 921.9,578.1 922.1,579.1 922.3,580.0 922.4,581.0 922.6,582.0 922.8,583.0 923.0,584.0 923.1,584.9 923.3,585.9 923.5,586.9 923.7,587.9 923.9,588.9 924.0,589.8 924.2,590.8 924.4,591.8 924.6,592.8 924.7,593.8 924.9,594.7 925.1,595.7 925.3,596.7 925.5,597.7 925.6,598.7 925.8,599.6 926.0,600.6 926.2,601.6 926.4,602.6 926.5,603.6 926.7,604.5 926.9,605.5 927.1,606.5 927.3,607.5 927.5,608.5 927.7,609.4 927.8,610.4 928.0,611.4 928.2,612.4 928.4,613.4 928.6,614.3 928.8,615.3 929.0,616.3 929.2,617.3 929.4,618.3 929.6,619.2 929.8,620.2 930.0,621.2 930.2,622.2 930.4,623.2 930.6,624.1 930.8,625.1 931.0,626.1 931.2,627.1 931.4,628.0 931.6,629.0 931.8,630.0 932.0,631.0 932.3,632.0 932.5,632.9 932.7,633.9 932.9,634.9 933.1,635.9 933.4,636.8 933.6,637.8 933.8,638.8 934.0,639.8 934.3,640.7 934.5,641.7 934.7,642.7 935.0,643.6 935.2,644.6 935.4,645.6 935.7,646.6 935.9,647.5 936.2,648.5 936.4,649.5 936.6,650.4 936.9,651.4 937.1,652.4 937.4,653.4 937.7,654.3 937.9,655.3 938.2,656.3 938.4,657.2 938.7,658.2 939.0,659.2 939.2,660.1 939.5,661.1 939.8,662.0 940.1,663.0 940.3,664.0 940.6,664.9 940.9,665.9 941.2,666.9 941.5,667.8 941.8,668.8 942.1,669.7 942.4,670.7 942.7,671.7 943.0,672.6 943.3,673.6 943.6,674.5 943.9,675.5 944.2,676.4 944.5,677.4 944.8,678.3 945.2,679.3 945.5,680.2 945.8,681.2 946.1,682.2 946.5,683.1 946.8,684.1 947.2,685.0 947.5,685.9 947.9,686.9 948.2,687.8 948.6,688.8 948.9,689.7 949.3,690.7 949.6,691.6 950.0,692.6 950.4,693.5 950.8,694.4 951.1,695.4 951.5,696.3 951.9,697.2 952.3,698.2 952.7,699.1 953.1,700.0 953.5,700.9 954.0,701.8 954.4,702.7 954.8,703.6 955.3,704.5 955.7,705.4 956.2,706.3 956.6,707.2 957.1,708.1 957.6,708.9 958.1,709.8 958.6,710.6 959.1,711.5 959.6,712.3 960.2,713.2 960.7,714.0 961.2,714.8 961.8,715.6 962.4,716.4 963.0,717.2 963.6,718.0 964.2,718.8 964.8,719.5 965.4,720.3 966.0,721.0 966.7,721.8 967.4,722.5 968.0,723.2 968.7,723.9 969.5,724.6 970.2,725.3 970.9,725.9 971.7,726.6 972.4,727.2 973.2,727.9 974.0,728.5 974.8,729.1 975.6,729.7 976.5,730.2 977.3,730.8 978.2,731.3 979.1,731.9 980.0,732.4 980.9,732.9 981.8,733.4 982.7,733.8 983.6,734.3 984.5,734.7 985.5,735.1 986.4,735.5 987.4,735.8 988.4,736.2 989.3,736.5 990.3,736.8 991.3,737.1 992.3,737.3 993.2,737.6 994.2,737.8 995.2,737.9 996.2,738.1 997.2,738.2 998.2,738.4 999.2,738.5 1000.1,738.5 1001.1,738.6 1002.1,738.7 1003.1,738.7 1004.1,738.7 1005.1,738.8 1006.1,738.8 1007.1,738.8 1008.1,738.8 1009.1,738.7 1010.1,738.7 1011.1,738.7 1012.1,738.7 1013.1,738.7 1014.1,738.7 1015.1,738.6 1016.1,738.6 1017.1,738.6 1018.1,738.6 1019.1,738.6 1020.1,738.5 1021.1,738.5 1022.1,738.5 1023.1,738.5 1024.1,738.5 1025.1,738.4 1026.1,738.4 1027.1,738.4 1028.2,738.4 1029.2,738.3 1030.2,738.3 1031.2,738.3 1032.2,738.2 1033.2,738.2 1034.2,738.2 1035.2,738.1 1036.2,738.1 1037.2,738.0 1038.2,737.9 1039.2,737.9 1040.2,737.8 1041.2,737.7 1042.1,737.7 1043.1,737.6 1044.1,737.5 1045.1,737.4 1046.1,737.3 1047.1,737.2 1048.1,737.1 1049.1,737.1 1050.1,737.0 1051.1,736.9 1052.0,736.8 1053.0,736.7 1054.0,736.6 1055.0,736.5 1056.0,736.4 1057.0,736.3 1058.0,736.2 1059.0,736.1 1059.9,736.1 1060.9,736.0 1061.9,735.9 1062.9,735.8 1063.9,735.8 1064.9,735.7 1065.9,735.7 1066.9,735.6 1067.9,735.6 1068.9,735.6 1069.9,735.5 1070.8,735.5 1071.8,735.5 1072.8,735.5 1073.8,735.5 1074.8,735.5 1075.8,735.6 1076.8,735.6 1077.9,735.7 1078.9,735.7 1079.9,735.8 1080.9,735.9 1081.9,736.0 1082.9,736.1 1083.9,736.2 1084.9,736.4 1085.9,736.5 1087.0,736.6 1088.0,736.8 1089.0,736.9 1090.0,737.1 1091.0,737.2 1092.0,737.4 1093.1,737.5 1094.1,737.7 1095.1,737.9 1096.1,738.0 1097.1,738.2 1098.2,738.4 1099.2,738.5 1100.2,738.7 1101.2,738.8 1102.2,739.0 1103.2,739.1 1104.3,739.3 1105.3,739.4 1106.3,739.5 1107.3,739.6 1108.3,739.8 1109.3,739.9 1110.3,740.0 1111.3,740.0 1112.3,740.1 1113.3,740.2 1114.3,740.2 1115.3,740.2 1116.3,740.3 1117.3,740.3 1118.3,740.2 1119.3,740.2 1120.3,740.2 1121.2,740.1 1122.2,740.0 1123.2,739.9 1124.2,739.8 1125.1,739.7 1126.1,739.5 1127.1,739.3 1128.0,739.1 1129.0,738.9 1129.9,738.6 1130.9,738.4 1131.8,738.1 1132.8,737.8 1133.7,737.4 1134.6,737.1 1135.5,736.7 1136.4,736.3 1137.3,735.9 1138.2,735.5 1139.0,735.0 1139.9,734.5 1140.7,734.0 1141.5,733.5 1142.3,733.0 1143.1,732.4 1143.9,731.9 1144.7,731.3 1145.4,730.6 1146.2,730.0 1146.9,729.4 1147.6,728.7 1148.3,728.0 1148.9,727.3 1149.6,726.6 1150.2,725.8 1150.8,725.1 1151.4,724.3 1151.9,723.5 1152.4,722.7 1153.0,721.8 1153.4,721.0 1153.9,720.1 1154.4,719.2 1154.8,718.4 1155.2,717.4 1155.6,716.5 1156.0,715.6 1156.4,714.7 1156.7,713.7 1157.1,712.8 1157.4,711.8 1157.7,710.8 1158.0,709.8 1158.3,708.9 1158.6,707.9 1158.9,706.9 1159.2,705.9 1159.4,704.9 1159.7,703.9 1160.0,702.9 1160.2,701.9 1160.5,700.9 1160.8,699.9 1161.0,698.9 1161.3,697.9 1161.5,696.9 1161.8,695.9 1162.0,694.9 1162.3,693.9 1162.5,692.9 1162.8,691.9 1163.0,690.9 1163.2,689.9 1163.5,688.9 1163.7,687.9 1163.9,686.9 1164.2,685.9 1164.4,685.0 1164.6,684.0 1164.9,683.0 1165.1,682.0 1165.3,681.0 1165.5,680.0 1165.8,679.0 1166.0,678.0 1166.2,677.1 1166.4,676.1 1166.6,675.1 1166.9,674.1 1167.1,673.1 1167.3,672.1 1167.5,671.2 1167.7,670.2 1167.9,669.2 1168.1,668.2 1168.3,667.2 1168.5,666.3 1168.7,665.3 1168.9,664.3 1169.1,663.3 1169.3,662.3 1169.5,661.4 1169.7,660.4 1169.9,659.4 1170.1,658.4 1170.3,657.4 1170.5,656.5 1170.7,655.5 1170.9,654.5 1171.1,653.5 1171.2,652.6 1171.4,651.6 1171.6,650.6 1171.8,649.6 1172.0,648.7 1172.2,647.7 1172.3,646.7 1172.5,645.7 1172.7,644.7 1172.9,643.8 1173.0,642.8 1173.2,641.8 1173.4,640.8 1173.6,639.9 1173.7,638.9 1173.9,637.9 1174.1,636.9 1174.2,636.0 1174.4,635.0 1174.6,634.0 1174.7,633.0 1174.9,632.1 1175.1,631.1 1175.2,630.1 1175.4,629.1 1175.5,628.1 1175.7,627.2 1175.9,626.2 1176.0,625.2 1176.2,624.2 1176.3,623.3 1176.5,622.3 1176.7,621.3 1176.8,620.3 1177.0,619.3 1177.1,618.4 1177.3,617.4 1177.4,616.4 1177.6,615.4 1177.7,614.4 1177.9,613.4 1178.0,612.5 1178.2,611.5 1178.3,610.5 1178.5,609.5 1178.6,608.5 1178.8,607.5 1178.9,606.6 1179.0,605.6 1179.2,604.6 1179.3,603.6 1179.5,602.6 1179.6,601.6 1179.8,600.6 1179.9,599.7 1180.0,598.7 1180.2,597.7 1180.3,596.7 1180.5,595.7 1180.6,594.7 1180.7,593.7 1180.9,592.7 1181.0,591.7 1181.1,590.8 1181.3,589.8 1181.4,588.8 1181.6,587.8 1181.7,586.8 1181.8,585.8 1182.0,584.8 1182.1,583.8 1182.2,582.8 1182.4,581.8 1182.5,580.8 1182.6,579.8 1182.8,578.9 1182.9,577.9 1183.0,576.9 1183.2,575.9 1183.3,574.9 1183.4,573.9 1183.5,572.9 1183.7,571.9 1183.8,570.9 1183.9,569.9 1184.1,568.9 1184.2,567.9 1184.3,566.9 1184.4,565.9 1184.6,564.9 1184.7,563.9 1184.8,562.9 1185.0,562.0 1185.1,561.0 1185.2,560.0 1185.3,559.0 1185.5,558.0 1185.6,557.0 1185.7,556.0 1185.8,555.0 1186.0,554.0 1186.1,553.0 1186.2,552.0 1186.3,551.0 1186.5,550.0 1186.6,549.0 1186.7,548.0 1186.9,547.0 1187.0,546.0 1187.1,545.0 1187.2,544.0 1187.4,543.0 1187.5,542.0 1187.6,541.0 1187.7,540.1 1187.9,539.1 1188.0,538.1 1188.1,537.1 1188.2,536.1 1188.4,535.1 1188.5,534.1 1188.6,533.1 1188.7,532.1 1188.9,531.1 1189.0,530.1 1189.1,529.1 1189.2,528.1 1189.4,527.1 1189.5,526.1 1189.6,525.1 1189.7,524.1 1189.9,523.1 1190.0,522.1 1190.1,521.2 1190.2,520.2 1190.4,519.2 1190.5,518.2 1190.6,517.2 1190.7,516.2 1190.9,515.2 1191.0,514.2 1191.1,513.2 1191.3,512.2 1191.4,511.2 1191.5,510.2 1191.6,509.2 1191.8,508.3 1191.9,507.3 1192.0,506.3 1192.2,505.3 1192.3,504.3 1192.5,503.3 1192.6,502.3 1192.7,501.3 1192.9,500.3 1193.0,499.4 1193.2,498.4 1193.3,497.4 1193.5,496.4 1193.6,495.4 1193.8,494.4 1193.9,493.4 1194.1,492.5 1194.3,491.5 1194.4,490.5 1194.6,489.5 1194.8,488.5 1194.9,487.6 1195.1,486.6 1195.3,485.6 1195.5,484.6 1195.6,483.6 1195.8,482.7 1196.0,481.7 1196.2,480.7 1196.4,479.7 1196.6,478.8 1196.8,477.8 1197.0,476.8 1197.2,475.8 1197.4,474.9 1197.7,473.9 1197.9,472.9 1198.1,472.0 1198.3,471.0 1198.6,470.0 1198.8,469.1 1199.1,468.1 1199.3,467.1 1199.6,466.2 1199.8,465.2 1200.1,464.3 1200.3,463.3 1200.6,462.3 1200.9,461.4 1201.2,460.4 1201.5,459.5 1201.8,458.5 1202.0,457.6 1202.4,456.6 1202.7,455.7 1203.0,454.7 1203.3,453.8 1203.6,452.8 1203.9,451.9 1204.3,450.9 1204.6,450.0 1205.0,449.0 1205.3,448.1 1205.7,447.1 1206.0,446.2 1206.4,445.3 1206.8,444.3 1207.2,443.4 1207.6,442.5 1208.0,441.5 1208.4,440.6 1208.8,439.7 1209.2,438.7 1209.6,437.8 1210.1,436.9 1210.5,436.0 1211.0,435.1 1211.4,434.2 1211.9,433.3 1212.4,432.4 1213.0,431.5 1213.5,430.7 1214.1,429.9 1214.7,429.1 1215.3,428.4 1216.0,427.6 1216.7,427.0 1217.5,426.3 1218.3,425.7 1219.1,425.1 1220.0,424.6 1220.9,424.1 1221.8,423.7 1222.8,423.3 1223.8,423.0 1224.8,422.7 1225.8,422.5 1226.8,422.3 1227.9,422.1 1228.9,422.1 1229.9,422.0 1230.9,422.0 1231.9,422.1 1232.9,422.2 1233.9,422.4 1234.9,422.6 1235.8,422.8 1236.8,423.1 1237.7,423.4 1238.7,423.7 1239.6,424.0 1240.5,424.4 1241.5,424.7 1242.4,425.1 1243.3,425.5 1244.2,425.8 1245.2,426.2 1246.1,426.6 1247.0,427.0 1248.0,427.3 1248.9,427.7 1249.8,428.1 1250.8,428.5 1251.7,428.8 1252.7,429.2 1253.6,429.5 1254.5,429.9 1255.5,430.2 1256.4,430.6 1257.4,430.9 1258.3,431.3 1259.3,431.6 1260.2,431.9 1261.2,432.2 1262.1,432.6 1263.1,432.9 1264.0,433.2 1265.0,433.5 1265.9,433.8 1266.9,434.0 1267.8,434.3 1268.8,434.6 1269.8,434.8 1270.7,435.1 1271.7,435.3 1272.7,435.6 1273.6,435.8 1274.6,436.0 1275.6,436.2 1276.5,436.4 1277.5,436.6 1278.5,436.8 1279.5,437.0 1280.4,437.1 1281.4,437.3 1282.4,437.4 1283.4,437.5 1284.4,437.6 1285.4,437.7 1286.4,437.8 1287.3,437.9 1288.3,438.0 1289.3,438.0 1290.3,438.1 1291.3,438.1 1292.3,438.2 1293.3,438.2 1294.3,438.2 1295.3,438.2 1296.3,438.2 1297.3,438.2 1298.3,438.2 1299.3,438.2 1300.4,438.1 1301.4,438.1 1302.4,438.1 1303.4,438.0 1304.4,438.0 1305.4,438.0 1306.4,437.9 1307.4,437.9 1308.4,437.8 1309.4,437.7 1310.4,437.7 1311.4,437.6 1312.4,437.6 1313.4,437.5 1314.4,437.4 1315.4,437.3 1316.4,437.3 1317.4,437.2 1318.4,437.1 1319.4,437.0 1320.4,436.9 1321.4,436.9 1322.4,436.8 1323.4,436.7 1324.4,436.6 1325.4,436.5 1326.4,436.4 1327.4,436.3 1328.4,436.2 1329.4,436.1 1330.4,436.0 1331.4,435.9 1332.4,435.8 1333.4,435.7 1334.4,435.6 1335.3,435.5 1336.3,435.4 1337.3,435.3 1338.3,435.1 1339.3,435.0 1340.3,434.9 1341.3,434.8 1342.3,434.7 1343.3,434.6 1344.3,434.4 1345.3,434.3 1346.3,434.2 1347.3,434.1 1348.2,433.9 1349.2,433.8 1350.2,433.7 1351.2,433.6 1352.2,433.4 1353.2,433.3 1354.2,433.2 1355.2,433.0 1356.2,432.9 1357.2,432.8 1358.2,432.6 1359.1,432.5 1360.1,432.4 1361.1,432.2 1362.1,432.1 1363.1,432.0 1364.1,431.8 1365.1,431.7 1366.1,431.6 1367.1,431.4 1368.0,431.3 1369.0,431.1 1370.0,431.0 1371.0,430.9 1372.0,430.7 1373.0,430.6 1374.0,430.5 1375.0,430.3 1376.0,430.2 1376.9,430.0 1377.9,429.9 1378.9,429.8 1379.9,429.6 1380.9,429.5 1381.9,429.4 1382.9,429.2 1383.9,429.1 1384.8,428.9 1385.8,428.8 1386.8,428.7 1387.8,428.5 1388.8,428.4 1389.8,428.3 1390.8,428.1 1391.8,428.0 1392.8,427.9 1393.7,427.7 1394.7,427.6 1395.7,427.5 1396.7,427.4 1397.7,427.2 1398.7,427.1 1399.7,427.0 1400.7,426.9 1401.7,426.7 1402.7,426.6 1403.7,426.5 1404.6,426.4 1405.6,426.3 1406.6,426.1 1407.6,426.0 1408.6,425.9 1409.6,425.8 1410.6,425.7 1411.6,425.6 1412.6,425.5 1413.6,425.3 1414.6,425.2 1415.6,425.1 1416.5,425.0 1417.5,424.9 1418.5,424.8 1419.5,424.7 1420.5,424.6 1421.5,424.5 1422.5,424.5 1423.5,424.4 1424.5,424.3 1425.5,424.2 1426.5,424.1 1427.5,424.0 1428.5,423.9 1429.5,423.9 1430.5,423.8 1431.5,423.7 1432.5,423.6 1433.5,423.6 1434.5,423.5 1435.5,423.4 1436.5,423.4 1437.5,423.3 1438.5,423.2 1439.5,423.2 1440.5,423.1 1441.5,423.1 1442.5,423.0 1443.5,423.0 1444.5,422.9 1445.5,422.9" stroke="#000000" stroke-width="10.5"/>
</g>
<g clip-path="url(#cc2)" fill="none" stroke-linejoin="round" stroke-linecap="round">
<path d="M779.8,916.6 780.3,917.5 780.8,918.3 781.3,919.2 781.8,920.1 782.3,921.0 782.8,921.8 783.3,922.7 783.7,923.6 784.2,924.5 784.7,925.4 785.1,926.3 785.6,927.2 786.0,928.0 786.5,928.9 786.9,929.8 787.3,930.7 787.8,931.6 788.2,932.6 788.6,933.5 789.0,934.4 789.4,935.3 789.8,936.2 790.2,937.1 790.6,938.0 791.0,938.9 791.4,939.9 791.8,940.8 792.2,941.7 792.6,942.6 792.9,943.5 793.3,944.5 793.7,945.4 794.0,946.3 794.4,947.3 794.8,948.2 795.1,949.1 795.5,950.1 795.8,951.0 796.2,951.9 796.5,952.9 796.8,953.8 797.2,954.8 797.5,955.7 797.8,956.6 798.2,957.6 798.5,958.5 798.8,959.5 799.1,960.4 799.5,961.4 799.8,962.3 800.1,963.3 800.4,964.2 800.7,965.2 801.0,966.1 801.3,967.1 801.6,968.0 801.9,969.0 802.3,969.9 802.6,970.9 802.9,971.9 803.2,972.8 803.5,973.8 803.8,974.7 804.1,975.7 804.3,976.6 804.6,977.6 804.9,978.5 805.2,979.5 805.5,980.5 805.8,981.4 806.1,982.4 806.4,983.3 806.7,984.3 807.0,985.3 807.3,986.2 807.6,987.2 807.9,988.1 808.2,989.1 808.4,990.0 808.7,991.0 809.0,992.0 809.3,992.9 809.6,993.9 809.9,994.8 810.2,995.8 810.5,996.7 810.8,997.7 811.1,998.6 811.4,999.6 811.7,1000.5 812.0,1001.5 812.3,1002.4 812.6,1003.4 812.9,1004.3 813.2,1005.3 813.5,1006.2 813.8,1007.2 814.1,1008.1 814.5,1009.1 814.8,1010.0 815.1,1011.0 815.4,1011.9 815.7,1012.9 816.0,1013.8 816.3,1014.8 816.7,1015.7 817.0,1016.6 817.3,1017.6 817.6,1018.5 817.9,1019.5 818.3,1020.4 818.6,1021.4 818.9,1022.3 819.3,1023.2 819.6,1024.2 819.9,1025.1 820.3,1026.1 820.6,1027.0 820.9,1027.9 821.3,1028.9 821.6,1029.8 822.0,1030.7 822.3,1031.7 822.7,1032.6 823.0,1033.5 823.4,1034.5 823.7,1035.4 824.1,1036.3 824.4,1037.3 824.8,1038.2 825.2,1039.1 825.5,1040.1 825.9,1041.0 826.2,1041.9 826.6,1042.8 827.0,1043.8 827.4,1044.7 827.7,1045.6 828.1,1046.6 828.5,1047.5 828.9,1048.4 829.3,1049.3 829.6,1050.2 830.0,1051.2 830.4,1052.1 830.8,1053.0 831.2,1053.9 831.6,1054.9 832.0,1055.8 832.4,1056.7 832.8,1057.6 833.2,1058.5 833.6,1059.5 834.1,1060.4 834.5,1061.3 834.9,1062.2 835.3,1063.1 835.7,1064.0 836.2,1065.0 836.6,1065.9 837.0,1066.8 837.5,1067.7 837.9,1068.6 838.4,1069.5 838.8,1070.4 839.3,1071.3 839.7,1072.2 840.2,1073.1 840.7,1074.0 841.2,1074.9 841.6,1075.7 842.1,1076.6 842.6,1077.5 843.2,1078.3 843.7,1079.2 844.2,1080.1 844.7,1080.9 845.3,1081.8 845.8,1082.6 846.4,1083.4 846.9,1084.3 847.5,1085.1 848.1,1085.9 848.7,1086.7 849.3,1087.5 849.9,1088.3 850.5,1089.1 851.2,1089.9 851.8,1090.6 852.5,1091.4 853.1,1092.1 853.8,1092.9 854.5,1093.6 855.1,1094.4 855.8,1095.1 856.5,1095.8 857.2,1096.5 857.9,1097.2 858.6,1097.9 859.4,1098.6 860.1,1099.3 860.9,1099.9 861.6,1100.6 862.4,1101.2 863.1,1101.9 863.9,1102.5 864.7,1103.1 865.5,1103.8 866.2,1104.4 867.0,1105.0 867.8,1105.6 868.7,1106.1 869.5,1106.7 870.3,1107.3 871.1,1107.8 872.0,1108.3 872.8,1108.9 873.7,1109.4 874.5,1109.9 875.4,1110.4 876.2,1110.9 877.1,1111.4 878.0,1111.8 878.9,1112.3 879.8,1112.7 880.7,1113.2 881.6,1113.6 882.5,1114.0 883.4,1114.4 884.3,1114.8 885.2,1115.2 886.1,1115.6 887.1,1115.9 888.0,1116.3 889.0,1116.6 889.9,1116.9 890.8,1117.2 891.8,1117.5 892.8,1117.8 893.7,1118.1 894.7,1118.4 895.7,1118.6 896.6,1118.9 897.6,1119.1 898.6,1119.4 899.6,1119.6 900.6,1119.8 901.5,1120.0 902.5,1120.2 903.5,1120.4 904.5,1120.6 905.5,1120.7 906.5,1120.9 907.5,1121.0 908.5,1121.2 909.5,1121.3 910.5,1121.5 911.5,1121.6 912.5,1121.7 913.5,1121.8 914.5,1122.0 915.5,1122.1 916.6,1122.2 917.6,1122.3 918.6,1122.4 919.6,1122.4 920.6,1122.5 921.6,1122.6 922.6,1122.7 923.6,1122.8 924.6,1122.8 925.6,1122.9 926.6,1122.9 927.6,1123.0 928.6,1123.0 929.6,1123.1 930.6,1123.1 931.6,1123.2 932.6,1123.2 933.6,1123.2 934.6,1123.3 935.6,1123.3 936.6,1123.3 937.6,1123.3 938.6,1123.3 939.6,1123.3 940.6,1123.3 941.6,1123.3 942.6,1123.3 943.6,1123.3 944.6,1123.3 945.6,1123.3 946.6,1123.3 947.6,1123.3 948.6,1123.3 949.6,1123.2 950.6,1123.2 951.6,1123.2 952.6,1123.1 953.6,1123.1 954.6,1123.0 955.6,1123.0 956.5,1123.0 957.5,1122.9 958.5,1122.8 959.5,1122.8 960.5,1122.7 961.5,1122.7 962.5,1122.6 963.5,1122.5 964.5,1122.5 965.5,1122.4 966.5,1122.3 967.5,1122.2 968.5,1122.1 969.5,1122.0 970.5,1122.0 971.5,1121.9 972.4,1121.8 973.4,1121.7 974.4,1121.6 975.4,1121.5 976.4,1121.4 977.4,1121.3 978.4,1121.2 979.4,1121.0 980.4,1120.9 981.4,1120.8 982.4,1120.7 983.4,1120.6 984.3,1120.5 985.3,1120.3 986.3,1120.2 987.3,1120.1 988.3,1119.9 989.3,1119.8 990.3,1119.7 991.3,1119.6 992.3,1119.4 993.3,1119.3 994.3,1119.1 995.2,1119.0 996.2,1118.9 997.2,1118.7 998.2,1118.6 999.2,1118.4 1000.2,1118.3 1001.2,1118.1 1002.2,1118.0 1003.2,1117.9 1004.2,1117.7 1005.2,1117.6 1006.1,1117.4 1007.1,1117.3 1008.1,1117.1 1009.1,1117.0 1010.1,1116.8 1011.1,1116.7 1012.1,1116.5 1013.1,1116.4 1014.1,1116.2 1015.1,1116.1 1016.1,1115.9 1017.0,1115.8 1018.0,1115.6 1019.0,1115.5 1020.0,1115.3 1021.0,1115.2 1022.0,1115.0 1023.0,1114.9 1024.0,1114.7 1025.0,1114.6 1026.0,1114.4 1027.0,1114.3 1027.9,1114.2 1028.9,1114.0 1029.9,1113.9 1030.9,1113.7 1031.9,1113.6 1032.9,1113.5 1033.9,1113.3 1034.9,1113.2 1035.9,1113.1 1036.9,1112.9 1037.9,1112.8 1038.9,1112.7 1039.9,1112.5 1040.8,1112.4 1041.8,1112.3 1042.8,1112.2 1043.8,1112.1 1044.8,1111.9 1045.8,1111.8 1046.8,1111.7 1047.8,1111.6 1048.8,1111.5 1049.8,1111.4 1050.8,1111.3 1051.8,1111.2 1052.8,1111.1 1053.8,1111.0 1054.8,1110.9 1055.8,1110.8 1056.7,1110.7 1057.7,1110.7 1058.7,1110.6 1059.7,1110.5 1060.7,1110.4 1061.7,1110.4 1062.7,1110.3 1063.7,1110.2 1064.7,1110.2 1065.7,1110.1 1066.7,1110.1 1067.7,1110.0 1068.7,1110.0 1069.7,1109.9 1070.7,1109.9 1071.7,1109.8 1072.7,1109.8 1073.7,1109.8 1074.7,1109.8 1075.7,1109.7 1076.7,1109.7 1077.7,1109.7 1078.7,1109.7 1079.7,1109.7 1080.7,1109.7 1081.7,1109.7 1082.7,1109.7 1083.7,1109.8 1084.7,1109.8 1085.7,1109.8 1086.7,1109.9 1087.7,1109.9 1088.7,1110.0 1089.7,1110.1 1090.7,1110.2 1091.6,1110.3 1092.6,1110.4 1093.6,1110.5 1094.6,1110.7 1095.6,1110.8 1096.5,1111.0 1097.5,1111.2 1098.5,1111.4 1099.5,1111.7 1100.4,1111.9 1101.4,1112.2 1102.3,1112.5 1103.3,1112.8 1104.2,1113.1 1105.2,1113.5 1106.1,1113.8 1107.1,1114.2 1108.0,1114.7 1108.9,1115.1 1109.8,1115.6 1110.7,1116.1 1111.6,1116.6 1112.5,1117.2 1113.4,1117.7 1114.3,1118.4 1115.2,1119.0 1116.1,1119.6 1117.0,1120.3 1117.9,1120.9 1118.7,1121.5 1119.6,1122.0 1120.5,1122.4 1121.4,1122.8 1122.4,1123.1 1123.3,1123.3 1124.2,1123.3 1125.0,1123.1 1125.9,1122.8 1126.7,1122.3 1127.4,1121.7 1128.1,1120.9 1128.8,1120.1 1129.3,1119.3 1129.8,1118.4 1130.2,1117.4 1130.5,1116.5 1130.8,1115.5 1131.0,1114.6 1131.2,1113.6 1131.3,1112.6 1131.5,1111.6 1131.6,1110.6 1131.7,1109.5 1131.8,1108.5 1131.9,1107.5 1131.9,1106.5 1132.0,1105.5 1132.1,1104.5 1132.2,1103.5 1132.3,1102.4 1132.4,1101.4 1132.5,1100.4 1132.6,1099.4 1132.6,1098.4 1132.7,1097.4 1132.8,1096.4 1132.9,1095.4 1133.0,1094.4 1133.1,1093.4 1133.1,1092.3 1133.2,1091.3 1133.3,1090.3 1133.4,1089.3 1133.4,1088.3 1133.5,1087.3 1133.6,1086.3 1133.7,1085.3 1133.7,1084.3 1133.8,1083.3 1133.9,1082.3 1133.9,1081.3 1134.0,1080.3 1134.1,1079.3 1134.1,1078.3 1134.2,1077.3 1134.3,1076.2 1134.3,1075.2 1134.4,1074.2 1134.5,1073.2 1134.5,1072.2 1134.6,1071.2 1134.6,1070.2 1134.7,1069.2 1134.8,1068.2 1134.8,1067.2 1134.9,1066.2 1134.9,1065.2 1135.0,1064.2 1135.0,1063.2 1135.1,1062.2 1135.2,1061.2 1135.2,1060.2 1135.3,1059.2 1135.3,1058.2 1135.4,1057.2 1135.4,1056.2 1135.5,1055.2 1135.5,1054.2 1135.6,1053.2 1135.6,1052.2 1135.7,1051.2 1135.7,1050.2 1135.8,1049.2 1135.8,1048.2 1135.9,1047.2 1135.9,1046.2 1136.0,1045.2 1136.0,1044.3 1136.1,1043.3 1136.1,1042.3 1136.2,1041.3 1136.2,1040.3 1136.3,1039.3 1136.3,1038.3 1136.4,1037.3 1136.4,1036.3 1136.5,1035.3 1136.5,1034.3 1136.5,1033.3 1136.6,1032.3 1136.6,1031.3 1136.7,1030.3 1136.7,1029.3 1136.8,1028.3 1136.8,1027.3 1136.9,1026.3 1136.9,1025.3 1137.0,1024.3 1137.0,1023.3 1137.0,1022.3 1137.1,1021.3 1137.1,1020.4 1137.2,1019.4 1137.2,1018.4 1137.3,1017.4 1137.3,1016.4 1137.4,1015.4 1137.4,1014.4 1137.5,1013.4 1137.5,1012.4 1137.5,1011.4 1137.6,1010.4 1137.6,1009.4 1137.7,1008.4 1137.7,1007.4 1137.8,1006.4 1137.8,1005.4 1137.9,1004.4 1137.9,1003.4 1138.0,1002.4 1138.0,1001.5 1138.1,1000.5 1138.1,999.5 1138.2,998.5 1138.2,997.5 1138.2,996.5 1138.3,995.5 1138.3,994.5 1138.4,993.5 1138.4,992.5 1138.5,991.5 1138.5,990.5 1138.6,989.5 1138.6,988.5 1138.7,987.5 1138.7,986.5 1138.8,985.5 1138.8,984.5 1138.9,983.5 1138.9,982.6 1139.0,981.6 1139.0,980.6 1139.1,979.6 1139.1,978.6 1139.2,977.6 1139.2,976.6 1139.3,975.6 1139.3,974.6 1139.4,973.6 1139.4,972.6 1139.5,971.6 1139.5,970.6 1139.6,969.6 1139.6,968.6 1139.7,967.6 1139.7,966.6 1139.8,965.6 1139.8,964.6 1139.9,963.6 1139.9,962.6 1140.0,961.6 1140.0,960.6 1140.1,959.6 1140.1,958.7 1140.2,957.7 1140.2,956.7 1140.3,955.7 1140.3,954.7 1140.4,953.7 1140.4,952.7 1140.5,951.7 1140.5,950.7 1140.6,949.7 1140.6,948.7 1140.7,947.7 1140.7,946.7 1140.8,945.7 1140.9,944.7 1140.9,943.7 1141.0,942.7 1141.0,941.7 1141.1,940.7 1141.1,939.7 1141.2,938.7 1141.2,937.7 1141.3,936.7 1141.3,935.7 1141.4,934.7 1141.4,933.7 1141.5,932.7 1141.5,931.7 1141.6,930.7 1141.6,929.7 1141.7,928.7 1141.8,927.7 1141.8,926.7 1141.9,925.7 1141.9,924.7 1142.0,923.7 1142.0,922.7 1142.1,921.7 1142.1,920.7 1142.2,919.7 1142.2,918.7 1142.3,917.7 1142.3,916.7 1142.4,915.7 1142.5,914.7 1142.5,913.7 1142.6,912.7 1142.6,911.7 1142.7,910.7 1142.7,909.7 1142.8,908.7 1142.8,907.7 1142.9,906.7 1142.9,905.7 1143.0,904.7 1143.1,903.7 1143.1,902.7 1143.2,901.7 1143.2,900.7 1143.3,899.7 1143.3,898.7 1143.4,897.7 1143.4,896.7 1143.5,895.6 1143.6,894.6 1143.6,893.6 1143.7,892.6 1143.7,891.6 1143.8,890.6 1143.8,889.6 1143.9,888.6 1143.9,887.6 1144.0,886.6 1144.1,885.6 1144.1,884.6 1144.2,883.6 1144.2,882.6 1144.3,881.6 1144.3,880.6 1144.4,879.5 1144.4,878.5 1144.5,877.5 1144.6,876.5 1144.6,875.5 1144.7,874.5 1144.7,873.5 1144.8,872.5 1144.8,871.5 1144.9,870.5 1144.9,869.5 1145.0,868.5 1145.1,867.4 1145.1,866.4 1145.2,865.4 1145.2,864.4 1145.3,863.4 1145.3,862.4 1145.4,861.4 1145.4,860.4 1145.5,859.4 1145.5,858.4 1145.6,857.4 1145.6,856.4 1145.7,855.4 1145.7,854.4 1145.8,853.5 1145.8,852.5 1145.9,851.5 1145.9,850.5 1146.0,849.5 1146.0,848.5 1146.1,847.6 1146.1,846.6 1146.2,845.6 1146.2,844.6 1146.3,843.7 1146.3,842.7 1146.4,841.8 1146.4,840.8 1146.4,839.9 1146.5,838.9 1146.5,838.0 1146.6,837.0 1146.6,836.1 1146.6,835.1 1146.7,834.2 1146.7,833.3 1146.8,832.3 1146.8,831.4 1146.9,830.4 1146.9,829.4 1147.0,828.4 1147.1,827.4 1147.2,826.4 1147.2,825.3 1147.4,824.2 1147.5,823.1 1147.6,822.0 1147.7,820.8 1147.9,819.7 1148.0,818.4 1148.2,817.2 1148.4,815.9 1148.6,814.6 1148.9,813.4 1149.1,812.2 1149.4,811.2 1149.7,810.3 1150.0,809.5 1150.4,809.0 1150.8,808.7 1151.2,808.7 1151.6,809.0 1152.1,809.5 1152.5,810.3 1152.9,811.1 1153.3,812.0 1153.7,813.0 1154.0,814.0 1154.3,815.0 1154.6,816.1 1154.8,817.2 1155.0,818.3 1155.2,819.4 1155.4,820.6 1155.5,821.7 1155.7,822.9 1155.8,824.0 1156.0,825.2 1156.1,826.3 1156.2,827.4 1156.3,828.5 1156.5,829.6 1156.6,830.7 1156.7,831.8 1156.8,832.9 1157.0,833.9 1157.1,834.9 1157.2,836.0 1157.3,837.0 1157.5,838.0 1157.6,839.0 1157.7,840.0 1157.8,841.0 1157.9,842.0 1158.1,842.9 1158.2,843.9 1158.3,844.9 1158.4,845.8 1158.6,846.8 1158.7,847.7 1158.8,848.7 1159.0,849.6 1159.1,850.5 1159.2,851.5 1159.4,852.4 1159.5,853.3 1159.6,854.3 1159.8,855.2 1159.9,856.1 1160.1,857.0 1160.2,858.0 1160.4,858.9 1160.5,859.8 1160.7,860.8 1160.8,861.7 1161.0,862.6 1161.1,863.6 1161.3,864.5 1161.5,865.5 1161.7,866.4 1161.8,867.4 1162.0,868.4 1162.2,869.3 1162.4,870.3 1162.6,871.2 1162.7,872.2 1162.9,873.2 1163.1,874.2 1163.3,875.1 1163.5,876.1 1163.7,877.1 1163.9,878.1 1164.1,879.1 1164.3,880.0 1164.5,881.0 1164.7,882.0 1165.0,883.0 1165.2,884.0 1165.4,885.0 1165.6,886.0 1165.8,887.0 1166.0,888.0 1166.3,889.1 1166.5,890.1 1166.7,891.1 1166.9,892.1 1167.2,893.1 1167.4,894.1 1167.6,895.1 1167.9,896.2 1168.1,897.2 1168.4,898.2 1168.6,899.2 1168.9,900.2 1169.2,901.2 1169.5,902.2 1169.8,903.1 1170.1,904.1 1170.5,905.1 1170.8,906.0 1171.2,907.0 1171.6,907.9 1172.0,908.8 1172.5,909.7 1172.9,910.6 1173.4,911.4 1173.9,912.3 1174.4,913.1 1175.0,913.9 1175.6,914.7 1176.2,915.5 1176.9,916.3 1177.5,917.0 1178.3,917.7 1179.0,918.4 1179.7,919.0 1180.5,919.7 1181.3,920.3 1182.1,920.9 1183.0,921.4 1183.8,922.0 1184.7,922.5 1185.6,922.9 1186.5,923.4 1187.4,923.8 1188.4,924.2 1189.3,924.5 1190.2,924.8 1191.2,925.1 1192.2,925.3 1193.1,925.6 1194.1,925.7 1195.1,925.9 1196.1,926.0 1197.0,926.1 1198.0,926.1 1199.0,926.1 1199.9,926.0 1200.9,925.9 1201.9,925.8 1202.8,925.7 1203.8,925.5 1204.7,925.3 1205.7,925.0 1206.6,924.7 1207.5,924.4 1208.5,924.1 1209.4,923.7 1210.3,923.4 1211.3,923.0 1212.2,922.5 1213.1,922.1 1214.0,921.7 1214.9,921.2 1215.8,920.7 1216.7,920.2 1217.6,919.7 1218.5,919.2 1219.4,918.7 1220.3,918.2 1221.2,917.7 1222.1,917.2 1223.0,916.6 1223.9,916.1 1224.8,915.6 1225.6,915.0 1226.5,914.5 1227.4,914.0 1228.3,913.4 1229.1,912.9 1230.0,912.4 1230.9,911.8 1231.8,911.3 1232.6,910.8 1233.5,910.2 1234.3,909.7 1235.2,909.1 1236.1,908.6 1236.9,908.0 1237.8,907.5 1238.6,906.9 1239.5,906.4 1240.3,905.8 1241.2,905.3 1242.0,904.7 1242.8,904.2 1243.7,903.6 1244.5,903.1 1245.4,902.5 1246.2,902.0 1247.0,901.4 1247.9,900.8 1248.7,900.3 1249.5,899.7 1250.4,899.2 1251.2,898.6 1252.0,898.0 1252.9,897.5 1253.7,896.9 1254.5,896.3 1255.3,895.8 1256.2,895.2 1257.0,894.7 1257.8,894.1 1258.6,893.5 1259.4,893.0 1260.3,892.4 1261.1,891.8 1261.9,891.2 1262.7,890.7 1263.5,890.1 1264.3,889.5 1265.2,889.0 1266.0,888.4 1266.8,887.8 1267.6,887.3 1268.4,886.7 1269.2,886.1 1270.0,885.6 1270.9,885.0 1271.7,884.4 1272.5,883.8 1273.3,883.3 1274.1,882.7 1274.9,882.1 1275.7,881.6 1276.5,881.0 1277.3,880.4 1278.2,879.9 1279.0,879.3 1279.8,878.7 1280.6,878.1 1281.4,877.6 1282.2,877.0 1283.0,876.4 1283.8,875.9 1284.6,875.3 1285.5,874.7 1286.3,874.2 1287.1,873.6 1287.9,873.1 1288.7,872.5 1289.5,871.9 1290.3,871.4 1291.2,870.8 1292.0,870.2 1292.8,869.7 1293.6,869.1 1294.4,868.6 1295.3,868.0 1296.1,867.4 1296.9,866.9 1297.7,866.3 1298.5,865.8 1299.4,865.2 1300.2,864.7 1301.0,864.1 1301.8,863.6 1302.7,863.0 1303.5,862.5 1304.3,861.9 1305.2,861.4 1306.0,860.8 1306.8,860.3 1307.7,859.7 1308.5,859.2 1309.3,858.7 1310.2,858.1 1311.0,857.6 1311.9,857.0 1312.7,856.5 1313.6,856.0 1314.4,855.4 1315.3,854.9 1316.1,854.4 1317.0,853.8 1317.8,853.3 1318.7,852.8 1319.5,852.3 1320.4,851.7 1321.2,851.2 1322.1,850.7 1322.9,850.2 1323.8,849.7 1324.7,849.2 1325.5,848.6 1326.4,848.1 1327.3,847.6 1328.1,847.1 1329.0,846.6 1329.9,846.1 1330.7,845.6 1331.6,845.1 1332.5,844.6 1333.4,844.1 1334.2,843.6 1335.1,843.1 1336.0,842.6 1336.9,842.2 1337.7,841.7 1338.6,841.2 1339.5,840.7 1340.4,840.2 1341.3,839.8 1342.2,839.3 1343.1,838.8 1343.9,838.3 1344.8,837.9 1345.7,837.4 1346.6,837.0 1347.5,836.5 1348.4,836.0 1349.3,835.6 1350.2,835.1 1351.1,834.7 1352.0,834.2 1352.9,833.8 1353.8,833.3 1354.7,832.9 1355.6,832.5 1356.5,832.0 1357.4,831.6 1358.3,831.2 1359.2,830.8 1360.2,830.3 1361.1,829.9 1362.0,829.5 1362.9,829.1 1363.8,828.7 1364.7,828.3 1365.6,827.9 1366.6,827.5 1367.5,827.1 1368.4,826.7 1369.3,826.3 1370.2,825.9 1371.2,825.5 1372.1,825.1 1373.0,824.7 1373.9,824.3 1374.9,824.0 1375.8,823.6 1376.7,823.2 1377.7,822.9 1378.6,822.5 1379.5,822.2 1380.5,821.8 1381.4,821.4 1382.3,821.1 1383.3,820.8 1384.2,820.4 1385.2,820.1 1386.1,819.7 1387.1,819.4 1388.0,819.1 1388.9,818.8 1389.9,818.4 1390.8,818.1 1391.8,817.8 1392.7,817.5 1393.7,817.2 1394.6,816.9 1395.6,816.6 1396.5,816.3 1397.5,816.0 1398.5,815.7 1399.4,815.5 1400.4,815.2 1401.3,814.9 1402.3,814.6 1403.2,814.4 1404.2,814.1 1405.2,813.9 1406.1,813.6 1407.1,813.4 1408.1,813.1 1409.0,812.9 1410.0,812.6 1411.0,812.4 1411.9,812.2 1412.9,812.0 1413.9,811.7 1414.9,811.5 1415.8,811.3 1416.8,811.1 1417.8,810.9 1418.8,810.7 1419.7,810.5 1420.7,810.3 1421.7,810.2 1422.7,810.0 1423.7,809.8 1424.6,809.6 1425.6,809.5 1426.6,809.3 1427.6,809.2 1428.6,809.0 1429.6,808.9 1430.6,808.7 1431.5,808.6 1432.5,808.4 1433.5,808.3 1434.5,808.2 1435.5,808.1 1436.5,808.0 1437.5,807.9 1438.5,807.8 1439.5,807.7 1440.5,807.6 1441.5,807.5 1442.5,807.4 1443.5,807.3 1444.5,807.3 1445.5,807.2" stroke="#ff1f0f" stroke-width="10.5"/>
</g>
<defs>
<linearGradient id="cbar" x1="0" y1="0" x2="1" y2="0"><stop offset="0" stop-color="#0a00ff"/><stop offset="0.1" stop-color="#1a10ff"/><stop offset="0.3" stop-color="#7070ff"/><stop offset="0.42" stop-color="#c0c0ff"/><stop offset="0.51" stop-color="#ffffff"/><stop offset="0.62" stop-color="#f4caca"/><stop offset="0.8" stop-color="#f07c7c"/><stop offset="0.97" stop-color="#ff1a10"/><stop offset="1" stop-color="#ff1a10"/></linearGradient>
<linearGradient id="g1" gradientUnits="userSpaceOnUse" x1="0" y1="86" x2="0" y2="388"><stop offset="0.0066" stop-color="#f08a8e"/><stop offset="0.0662" stop-color="#f09296"/><stop offset="0.1026" stop-color="#fdfdff"/><stop offset="0.1325" stop-color="#8f8bff"/><stop offset="0.1642" stop-color="#1a0cf0"/><stop offset="0.1954" stop-color="#8c88ff"/><stop offset="0.2252" stop-color="#fafaff"/><stop offset="0.2517" stop-color="#f4b8ba"/><stop offset="0.2848" stop-color="#f08a8e"/><stop offset="0.3245" stop-color="#f2a2a4"/><stop offset="0.3609" stop-color="#fefefe"/><stop offset="0.3907" stop-color="#9a96ff"/><stop offset="0.4238" stop-color="#2214f2"/><stop offset="0.4503" stop-color="#8c86ff"/><stop offset="0.4735" stop-color="#e8e8ff"/><stop offset="0.4868" stop-color="#ffffff"/><stop offset="0.5828" stop-color="#ffffff"/><stop offset="0.5927" stop-color="#d0ccff"/><stop offset="0.6093" stop-color="#5a50ff"/><stop offset="0.6424" stop-color="#4a40ff"/><stop offset="0.6821" stop-color="#6a62ff"/><stop offset="0.7252" stop-color="#5a50ff"/><stop offset="0.9934" stop-color="#5c52ff"/></linearGradient>
<linearGradient id="g2" gradientUnits="userSpaceOnUse" x1="0" y1="194" x2="0" y2="494"><stop offset="0.0067" stop-color="#f8eef4"/><stop offset="0.0300" stop-color="#e4e4ff"/><stop offset="0.0600" stop-color="#a8a8ff"/><stop offset="0.0933" stop-color="#3a30ff"/><stop offset="0.1150" stop-color="#1a05ff"/><stop offset="0.1400" stop-color="#5a52ff"/><stop offset="0.1733" stop-color="#c8c8ff"/><stop offset="0.2033" stop-color="#ffffff"/><stop offset="0.2267" stop-color="#f6dcdc"/><stop offset="0.2533" stop-color="#f4d2d2"/><stop offset="0.2800" stop-color="#f6dede"/><stop offset="0.3033" stop-color="#ffffff"/><stop offset="0.3333" stop-color="#c0c0ff"/><stop offset="0.3667" stop-color="#4a40ff"/><stop offset="0.3900" stop-color="#1a05ff"/><stop offset="0.4200" stop-color="#5a52ff"/><stop offset="0.4533" stop-color="#a8a8ff"/><stop offset="0.4867" stop-color="#c8c8ff"/><stop offset="0.5933" stop-color="#c0c0ff"/><stop offset="0.6133" stop-color="#9a94ff"/><stop offset="0.6467" stop-color="#4a40ff"/><stop offset="0.6800" stop-color="#2a20ff"/><stop offset="0.7133" stop-color="#6a62ff"/><stop offset="0.7533" stop-color="#a0a0ff"/><stop offset="0.8400" stop-color="#a0a0ff"/><stop offset="0.8700" stop-color="#6a62ff"/><stop offset="0.9033" stop-color="#5a50ff"/><stop offset="0.9933" stop-color="#6456ff"/></linearGradient>
<radialGradient id="wglow"><stop offset="0" stop-color="#fff" stop-opacity="1"/><stop offset="0.45" stop-color="#fff" stop-opacity="0.9"/><stop offset="1" stop-color="#fff" stop-opacity="0"/></radialGradient>
<radialGradient id="wglow2"><stop offset="0" stop-color="#fff" stop-opacity="1"/><stop offset="0.55" stop-color="#fff" stop-opacity="0.95"/><stop offset="1" stop-color="#fff" stop-opacity="0"/></radialGradient>
<radialGradient id="cdot"><stop offset="0" stop-color="#1a00ff"/><stop offset="0.4" stop-color="#4a40ff"/><stop offset="0.62" stop-color="#ffffff"/><stop offset="0.85" stop-color="#ffffff" stop-opacity="0.7"/><stop offset="1" stop-color="#ffffff" stop-opacity="0"/></radialGradient>
<radialGradient id="bglow"><stop offset="0" stop-color="#2010ff" stop-opacity="0.95"/><stop offset="0.5" stop-color="#3020ff" stop-opacity="0.6"/><stop offset="1" stop-color="#4030ff" stop-opacity="0"/></radialGradient>
<linearGradient id="lobeL" x1="0" y1="0" x2="1" y2="0"><stop offset="0" stop-color="#f06060" stop-opacity="0"/><stop offset="0.55" stop-color="#f05050" stop-opacity="0.55"/><stop offset="1" stop-color="#f01818" stop-opacity="1"/></linearGradient>
<linearGradient id="lobeR" x1="1" y1="0" x2="0" y2="0"><stop offset="0" stop-color="#f06060" stop-opacity="0"/><stop offset="0.55" stop-color="#f05050" stop-opacity="0.55"/><stop offset="1" stop-color="#f01818" stop-opacity="1"/></linearGradient>
<linearGradient id="lobeT" x1="0" y1="0" x2="0" y2="1"><stop offset="0" stop-color="#f06060" stop-opacity="0"/><stop offset="1" stop-color="#f02020" stop-opacity="0.9"/></linearGradient>
<linearGradient id="lobeB" x1="0" y1="1" x2="0" y2="0"><stop offset="0" stop-color="#f06060" stop-opacity="0"/><stop offset="1" stop-color="#f02020" stop-opacity="0.9"/></linearGradient>
<radialGradient id="ring1" cx="0.5" cy="0.55" r="0.55"><stop offset="0" stop-color="#2a10ff"/><stop offset="0.2" stop-color="#6a60ff"/><stop offset="0.36" stop-color="#ffffff"/><stop offset="0.58" stop-color="#f8d4d4"/><stop offset="0.78" stop-color="#f4b0b0"/><stop offset="1" stop-color="#fce4e4"/></radialGradient>
<radialGradient id="ring2"><stop offset="0" stop-color="#1a00ff"/><stop offset="0.2" stop-color="#5a50ff"/><stop offset="0.34" stop-color="#ffffff"/><stop offset="0.46" stop-color="#fbe0e0"/><stop offset="0.62" stop-color="#f48c8c"/><stop offset="0.8" stop-color="#f03434"/><stop offset="0.93" stop-color="#f02a2a"/><stop offset="1" stop-color="#f6b4b4"/></radialGradient>
<radialGradient id="sq2"><stop offset="0" stop-color="#2010ff"/><stop offset="0.3" stop-color="#6a62ff"/><stop offset="0.62" stop-color="#a8a4ff"/><stop offset="0.85" stop-color="#d8d8ff"/><stop offset="1" stop-color="#f4f4ff"/></radialGradient>
<clipPath id="i1"><rect x="288" y="86.5" width="74.9" height="299.4" rx="11"/></clipPath>
<clipPath id="i2"><rect x="516.6" y="195.5" width="75.2" height="297.3" rx="11"/></clipPath>
</defs>
<g clip-path="url(#i1)">
<rect x="286" y="85" width="80" height="305" fill="url(#g1)"/>
<ellipse cx="289" cy="236" rx="9" ry="16" fill="url(#bglow)" opacity="0.55"/>
<ellipse cx="362" cy="236" rx="9" ry="16" fill="url(#bglow)" opacity="0.55"/>
<ellipse cx="289" cy="258" rx="7" ry="9" fill="url(#bglow)" opacity="0.5"/>
<ellipse cx="362" cy="258" rx="7" ry="9" fill="url(#bglow)" opacity="0.5"/>
<ellipse cx="290" cy="276" rx="10" ry="14" fill="url(#bglow)" opacity="0.8"/>
<ellipse cx="360" cy="276" rx="10" ry="14" fill="url(#bglow)" opacity="0.8"/>
<ellipse cx="325" cy="250" rx="30" ry="24" fill="url(#wglow)" opacity="0.9"/>
<ellipse cx="325" cy="266" rx="22" ry="30" fill="url(#wglow)" opacity="0.9"/>
<path d="M309.5,230.5 C298,234 293,241 294,248 C295,255 301,261 309.5,264 Z" fill="url(#lobeL)"/>
<path d="M341,230.5 C352.5,234 357.5,241 356.5,248 C355.5,255 349.5,261 341,264 Z" fill="url(#lobeR)"/>
<rect x="309.5" y="231" width="31.5" height="32.5" fill="url(#ring1)"/>
<circle cx="312.0" cy="233.5" r="1.8" fill="#5050ff"/>
<circle cx="338.5" cy="233.5" r="1.8" fill="#5050ff"/>
<circle cx="312.0" cy="261.0" r="1.8" fill="#5050ff"/>
<circle cx="338.5" cy="261.0" r="1.8" fill="#5050ff"/>
<rect x="309.5" y="231" width="31.5" height="32.5" fill="none" stroke="#fff" stroke-width="1.8"/>
<path d="M289,265.4H361" stroke="#fff" stroke-width="2.4"/>
</g>
<rect x="288" y="86.5" width="74.9" height="299.4" rx="11" fill="none" stroke="#000" stroke-width="3"/>
<g clip-path="url(#i2)">
<rect x="514" y="193" width="82" height="302" fill="url(#g2)"/>
<ellipse cx="554.3" cy="356" rx="31" ry="29" fill="url(#wglow2)"/>
<ellipse cx="517" cy="360" rx="9" ry="20" fill="url(#bglow)" opacity="0.85"/>
<ellipse cx="592" cy="360" rx="9" ry="20" fill="url(#bglow)" opacity="0.85"/>
<path d="M537.5,337 C531,341 529.5,348 530,355 C530.5,362 532,367 537.5,371 Z" fill="url(#lobeL)" opacity="0.9"/>
<path d="M571,337 C577.5,341 579,348 578.5,355 C578,362 576.5,367 571,371 Z" fill="url(#lobeR)" opacity="0.9"/>
<path d="M544.5,337.5 C546,333 550,332 554.3,332 C558.6,332 562.6,333 564.1,337.5 Z" fill="url(#lobeT)" opacity="0.8"/>
<path d="M542.5,374.8 C544,380 549,381.5 554.3,381.5 C559.6,381.5 564.6,380 566.1,374.8 Z" fill="url(#lobeB)" opacity="0.8"/>
<rect x="537.8" y="338" width="33" height="34" fill="url(#ring2)"/>
<ellipse cx="554.3" cy="355.3" rx="7.2" ry="8.8" fill="url(#cdot)"/>
<circle cx="540.6" cy="341.0" r="1.5" fill="#5a5aff"/>
<circle cx="567.9" cy="341.0" r="1.5" fill="#5a5aff"/>
<circle cx="540.6" cy="369.3" r="1.5" fill="#5a5aff"/>
<circle cx="567.9" cy="369.3" r="1.5" fill="#5a5aff"/>
<rect x="537.8" y="338" width="33" height="34" fill="none" stroke="#fff" stroke-width="1.8"/>
<path d="M517,373.5H592" stroke="#fff" stroke-width="2.4"/>
<ellipse cx="554" cy="428" rx="26" ry="27" fill="url(#wglow)" opacity="0.95"/>
<ellipse cx="519" cy="399" rx="9" ry="8" fill="url(#bglow)" opacity="0.8"/>
<ellipse cx="590" cy="399" rx="9" ry="8" fill="url(#bglow)" opacity="0.8"/>
<ellipse cx="520" cy="450" rx="9" ry="12" fill="url(#bglow)" opacity="0.85"/>
<ellipse cx="589" cy="450" rx="9" ry="12" fill="url(#bglow)" opacity="0.85"/>
<rect x="537" y="410" width="33" height="35.5" fill="url(#sq2)"/>
<circle cx="539.5" cy="412.5" r="1.6" fill="#6060ff"/>
<circle cx="567.5" cy="412.5" r="1.6" fill="#6060ff"/>
<circle cx="539.5" cy="443.0" r="1.6" fill="#6060ff"/>
<circle cx="567.5" cy="443.0" r="1.6" fill="#6060ff"/>
<rect x="537" y="410" width="33" height="35.5" fill="none" stroke="#fff" stroke-width="2.4"/>
</g>
<rect x="516.6" y="195.5" width="75.2" height="297.3" rx="11" fill="none" stroke="#000" stroke-width="2.8"/>
<rect x="282.8" y="66.8" width="82.6" height="11.8" fill="url(#cbar)" stroke="#333" stroke-width="0.8"/>
<rect x="513.6" y="176.2" width="81.6" height="11.8" fill="url(#cbar)" stroke="#333" stroke-width="0.8"/>
<path d="M306.2,33.2V55.4M306.2,34.8H314.7M306.2,44.3H313.7M306.2,53.9H314.7M327.8,33.2V55.4M327.8,34.8H336.2M327.8,44.3H335.2M327.8,53.9H336.2M323.2,31.7L317.7,58.4" stroke="#000" stroke-width="3.1" fill="none"/>
<path d="M538.8,145.6V167.9M538.8,147.2H547.3M538.8,156.8H546.3M538.8,166.3H547.3M560.3,145.6V167.9M560.3,147.2H568.8M560.3,156.8H567.8M560.3,166.3H568.8M555.8,144.1L550.3,170.9" stroke="#000" stroke-width="3.1" fill="none"/>
<rect x="339.0" y="48.5" width="5.1" height="13.0" rx="2.5" fill="none" stroke="#000" stroke-width="2.4"/>
<rect x="271.9" y="63.7" width="6.9" height="19.8" rx="3.5" fill="none" stroke="#000" stroke-width="3.0"/>
<rect x="571.6" y="160.9" width="5.1" height="13.0" rx="2.5" fill="none" stroke="#000" stroke-width="2.4"/>
<rect x="503.2" y="173.8" width="6.5" height="19.3" rx="3.2" fill="none" stroke="#000" stroke-width="3.0"/>
<text transform="translate(367.9,82.4) scale(0.70,1)" font-size="32.3" font-weight="bold" fill="#000">2</text>
<text transform="translate(598.7,192.6) scale(0.70,1)" font-size="32.4" font-weight="bold" fill="#000">3</text>
<path d="M461.9,277.6H482V272.4L496.2,280L482,287.6V282.6H461.9Z" fill="#ff1f0f"/>
<path d="M281.2,307.3L266,320.5" stroke="#1a00ff" stroke-width="5" stroke-linecap="round"/>
<path d="M259.3,317.5L253.9,332.1L269.5,328Z" fill="#1a00ff" stroke="#1a00ff" stroke-width="1" stroke-linejoin="round"/>
<defs><linearGradient id="smear" x1="0" x2="1"><stop offset="0" stop-color="#999"/><stop offset="1" stop-color="#999" stop-opacity="0"/></linearGradient></defs><rect x="366" y="23.6" width="9" height="1.8" rx="0.9" fill="url(#smear)"/>
<path d="M392,26 V1143" stroke="#1a00ff" stroke-width="3.4" stroke-dasharray="13.6 20.2" stroke-linecap="round" fill="none"/>
<path d="M426.8,27.4 V1143" stroke="#ff1f0f" stroke-width="3.4" stroke-dasharray="13.6 20.2" stroke-linecap="round" fill="none"/>
<rect x="104.4" y="14.8" width="530.9" height="507.4" fill="none" stroke="#000" stroke-width="1.6"/>
<rect x="104.4" y="647.3" width="530.6" height="507.4" fill="none" stroke="#000" stroke-width="1.6"/>
<rect x="779.0" y="4.2" width="666.5" height="1151.3" fill="none" stroke="#404040" stroke-width="1.8"/>
<path d="M779.0,388.0H1445.5M779.0,772.0H1445.5" stroke="#404040" stroke-width="1.8"/>
<path d="M104.4,479.9H112.4M104.4,437.6H108.4M104.4,395.3H112.4M104.4,353.0H108.4M104.4,310.7H112.4M104.4,268.4H108.4M104.4,226.1H112.4M104.4,183.8H108.4M104.4,141.5H112.4M104.4,99.2H108.4M104.4,56.9H112.4M104.4,1132.6H112.4M104.4,1088.5H108.4M104.4,1044.4H112.4M104.4,1000.2H108.4M104.4,956.1H112.4M104.4,912.0H108.4M104.4,867.9H112.4M104.4,823.8H108.4M104.4,779.6H112.4M104.4,735.5H108.4M104.4,691.4H112.4M157.5,522.2V517.7M210.6,522.2V513.2M263.7,522.2V517.7M316.8,522.2V513.2M369.9,522.2V517.7M422.9,522.2V513.2M476.0,522.2V517.7M529.1,522.2V513.2M582.2,522.2V517.7M157.5,1154.7V1150.2M210.6,1154.7V1145.7M263.7,1154.7V1150.2M316.8,1154.7V1145.7M369.9,1154.7V1150.2M422.9,1154.7V1145.7M476.0,1154.7V1150.2M529.1,1154.7V1145.7M582.2,1154.7V1150.2" stroke="#000" stroke-width="1.6" fill="none"/>
<path d="M779.0,355.7H785.3M779.0,323.7H782.3M779.0,291.7H785.3M779.0,259.7H782.3M779.0,227.7H785.3M779.0,195.7H782.3M779.0,163.7H785.3M779.0,131.7H782.3M779.0,99.7H785.3M779.0,67.7H782.3M779.0,35.7H785.3M912.3,388.0V384.5M1045.6,388.0V381.5M1178.9,388.0V384.5M1312.2,388.0V381.5M779.0,739.8H785.3M779.0,707.8H782.3M779.0,675.8H785.3M779.0,643.8H782.3M779.0,611.8H785.3M779.0,579.8H782.3M779.0,547.8H785.3M779.0,515.8H782.3M779.0,483.8H785.3M779.0,451.8H782.3M779.0,419.8H785.3M912.3,772.0V768.5M1045.6,772.0V765.5M1178.9,772.0V768.5M1312.2,772.0V765.5M779.0,1123.7H785.3M779.0,1091.7H782.3M779.0,1059.7H785.3M779.0,1027.7H782.3M779.0,995.7H785.3M779.0,963.7H782.3M779.0,931.7H785.3M779.0,899.7H782.3M779.0,867.7H785.3M779.0,835.7H782.3M779.0,803.7H785.3M912.3,1155.5V1152.0M1045.6,1155.5V1149.0M1178.9,1155.5V1152.0M1312.2,1155.5V1149.0" stroke="#404040" stroke-width="1.8" fill="none"/>
<g fill="#000">
<text transform="translate(94.60,490.20) scale(0.9720,1.0000)" font-size="33.20" text-anchor="end">0.0</text>
<text transform="translate(94.60,1142.90) scale(0.9720,1.0000)" font-size="33.20" text-anchor="end">0.0</text>
<text transform="translate(771.60,365.40) scale(0.9720,1.0000)" font-size="32.60" text-anchor="end">0.0</text>
<text transform="translate(771.60,749.50) scale(0.9720,1.0000)" font-size="32.60" text-anchor="end">0.0</text>
<text transform="translate(771.60,1133.40) scale(0.9720,1.0000)" font-size="32.60" text-anchor="end">0.0</text>
<text transform="translate(94.60,405.60) scale(0.9720,1.0000)" font-size="33.20" text-anchor="end">0.2</text>
<text transform="translate(94.60,1054.66) scale(0.9720,1.0000)" font-size="33.20" text-anchor="end">0.2</text>
<text transform="translate(771.60,301.40) scale(0.9720,1.0000)" font-size="32.60" text-anchor="end">0.2</text>
<text transform="translate(771.60,685.50) scale(0.9720,1.0000)" font-size="32.60" text-anchor="end">0.2</text>
<text transform="translate(771.60,1069.40) scale(0.9720,1.0000)" font-size="32.60" text-anchor="end">0.2</text>
<text transform="translate(94.60,321.00) scale(0.9720,1.0000)" font-size="33.20" text-anchor="end">0.4</text>
<text transform="translate(94.60,966.42) scale(0.9720,1.0000)" font-size="33.20" text-anchor="end">0.4</text>
<text transform="translate(771.60,237.40) scale(0.9720,1.0000)" font-size="32.60" text-anchor="end">0.4</text>
<text transform="translate(771.60,621.50) scale(0.9720,1.0000)" font-size="32.60" text-anchor="end">0.4</text>
<text transform="translate(771.60,1005.40) scale(0.9720,1.0000)" font-size="32.60" text-anchor="end">0.4</text>
<text transform="translate(94.60,236.40) scale(0.9720,1.0000)" font-size="33.20" text-anchor="end">0.6</text>
<text transform="translate(94.60,878.18) scale(0.9720,1.0000)" font-size="33.20" text-anchor="end">0.6</text>
<text transform="translate(771.60,173.40) scale(0.9720,1.0000)" font-size="32.60" text-anchor="end">0.6</text>
<text transform="translate(771.60,557.50) scale(0.9720,1.0000)" font-size="32.60" text-anchor="end">0.6</text>
<text transform="translate(771.60,941.40) scale(0.9720,1.0000)" font-size="32.60" text-anchor="end">0.6</text>
<text transform="translate(94.60,151.80) scale(0.9720,1.0000)" font-size="33.20" text-anchor="end">0.8</text>
<text transform="translate(94.60,789.94) scale(0.9720,1.0000)" font-size="33.20" text-anchor="end">0.8</text>
<text transform="translate(771.60,109.40) scale(0.9720,1.0000)" font-size="32.60" text-anchor="end">0.8</text>
<text transform="translate(771.60,493.50) scale(0.9720,1.0000)" font-size="32.60" text-anchor="end">0.8</text>
<text transform="translate(771.60,877.40) scale(0.9720,1.0000)" font-size="32.60" text-anchor="end">0.8</text>
<path transform="translate(49.74,67.20) scale(0.01576,-0.01621)" d="M763,0 L583,0 L583,1147 Q430,1005 222,930 L222,1104 Q470,1225 646,1466 L763,1466 Z"/>
<text transform="translate(67.69,67.20) scale(0.9720,1.0000)" font-size="33.20" xml:space="preserve">.0</text>
<path transform="translate(49.74,701.70) scale(0.01576,-0.01621)" d="M763,0 L583,0 L583,1147 Q430,1005 222,930 L222,1104 Q470,1225 646,1466 L763,1466 Z"/>
<text transform="translate(67.69,701.70) scale(0.9720,1.0000)" font-size="33.20" xml:space="preserve">.0</text>
<path transform="translate(727.55,45.40) scale(0.01547,-0.01592)" d="M763,0 L583,0 L583,1147 Q430,1005 222,930 L222,1104 Q470,1225 646,1466 L763,1466 Z"/>
<text transform="translate(745.17,45.40) scale(0.9720,1.0000)" font-size="32.60" xml:space="preserve">.0</text>
<path transform="translate(727.55,429.50) scale(0.01547,-0.01592)" d="M763,0 L583,0 L583,1147 Q430,1005 222,930 L222,1104 Q470,1225 646,1466 L763,1466 Z"/>
<text transform="translate(745.17,429.50) scale(0.9720,1.0000)" font-size="32.60" xml:space="preserve">.0</text>
<path transform="translate(727.55,813.40) scale(0.01547,-0.01592)" d="M763,0 L583,0 L583,1147 Q430,1005 222,930 L222,1104 Q470,1225 646,1466 L763,1466 Z"/>
<text transform="translate(745.17,813.40) scale(0.9720,1.0000)" font-size="32.60" xml:space="preserve">.0</text>
<path transform="translate(68.91,1190.00) scale(0.01576,-0.01621)" d="M763,0 L583,0 L583,1147 Q430,1005 222,930 L222,1104 Q470,1225 646,1466 L763,1466 Z"/>
<text transform="translate(86.85,1190.00) scale(0.9720,1.0000)" font-size="33.20" xml:space="preserve">000</text>
<path transform="translate(175.09,1190.00) scale(0.01576,-0.01621)" d="M763,0 L583,0 L583,1147 Q430,1005 222,930 L222,1104 Q470,1225 646,1466 L763,1466 Z"/>
<path transform="translate(193.03,1190.00) scale(0.01576,-0.01621)" d="M763,0 L583,0 L583,1147 Q430,1005 222,930 L222,1104 Q470,1225 646,1466 L763,1466 Z"/>
<text transform="translate(210.98,1190.00) scale(0.9720,1.0000)" font-size="33.20" xml:space="preserve">00</text>
<path transform="translate(281.27,1190.00) scale(0.01576,-0.01621)" d="M763,0 L583,0 L583,1147 Q430,1005 222,930 L222,1104 Q470,1225 646,1466 L763,1466 Z"/>
<text transform="translate(299.21,1190.00) scale(0.9720,1.0000)" font-size="33.20" xml:space="preserve">200</text>
<path transform="translate(387.45,1190.00) scale(0.01576,-0.01621)" d="M763,0 L583,0 L583,1147 Q430,1005 222,930 L222,1104 Q470,1225 646,1466 L763,1466 Z"/>
<text transform="translate(405.39,1190.00) scale(0.9720,1.0000)" font-size="33.20" xml:space="preserve">300</text>
<path transform="translate(493.63,1190.00) scale(0.01576,-0.01621)" d="M763,0 L583,0 L583,1147 Q430,1005 222,930 L222,1104 Q470,1225 646,1466 L763,1466 Z"/>
<text transform="translate(511.57,1190.00) scale(0.9720,1.0000)" font-size="33.20" xml:space="preserve">400</text>
<path transform="translate(599.81,1190.00) scale(0.01576,-0.01621)" d="M763,0 L583,0 L583,1147 Q430,1005 222,930 L222,1104 Q470,1225 646,1466 L763,1466 Z"/>
<text transform="translate(617.75,1190.00) scale(0.9720,1.0000)" font-size="33.20" xml:space="preserve">500</text>
<path transform="translate(744.04,1188.40) scale(0.01557,-0.01602)" d="M763,0 L583,0 L583,1147 Q430,1005 222,930 L222,1104 Q470,1225 646,1466 L763,1466 Z"/>
<text transform="translate(761.77,1188.40) scale(0.9720,1.0000)" font-size="32.80" xml:space="preserve">000</text>
<path transform="translate(1010.64,1188.40) scale(0.01557,-0.01602)" d="M763,0 L583,0 L583,1147 Q430,1005 222,930 L222,1104 Q470,1225 646,1466 L763,1466 Z"/>
<text transform="translate(1028.37,1188.40) scale(0.9720,1.0000)" font-size="32.80" xml:space="preserve">200</text>
<path transform="translate(1277.24,1188.40) scale(0.01557,-0.01602)" d="M763,0 L583,0 L583,1147 Q430,1005 222,930 L222,1104 Q470,1225 646,1466 L763,1466 Z"/>
<text transform="translate(1294.97,1188.40) scale(0.9720,1.0000)" font-size="32.80" xml:space="preserve">400</text>
<text transform="translate(33.80,270.20) rotate(-90)" font-size="43.10" text-anchor="middle">Transmittance</text>
<text transform="translate(35.70,900.80) rotate(-90)" font-size="43.30" text-anchor="middle">Normalized Total CE</text>
<text transform="translate(701.80,344.80) rotate(-90)" font-size="43.10" text-anchor="middle">Transmittance</text>
<text transform="translate(370.30,1245.40)" font-size="43.30" text-anchor="middle">Wavelength (nm)</text>
<text transform="translate(1112.60,1245.20)" font-size="43.30" text-anchor="middle">Wavelength (nm)</text>
<text transform="translate(2.30,32.40)" font-size="38.60">(a)</text>
<text transform="translate(2.30,629.90)" font-size="38.80">(b)</text>
<text transform="translate(664.80,32.20)" font-size="38.60">(c)</text>
</g>
<g stroke-linecap="round" stroke-width="8.6" fill="none">
<path d="M134.2,671.2H176.0" stroke="#1a00ff"/>
<path d="M134.2,717.4H176.0" stroke="#ff1f0f"/>
<path d="M134.2,763.3H176.0" stroke="#000000"/>
<path d="M134.2,809.2H172.7" stroke="#45ff0a"/>
</g>
<g fill="#000">
<path transform="translate(197.00,684.10) scale(0.01832,-0.01865)" d="M763,0 L583,0 L583,1147 Q430,1005 222,930 L222,1104 Q470,1225 646,1466 L763,1466 Z"/>
<text transform="translate(217.86,684.10) scale(0.9820,1.0000)" font-size="38.20" xml:space="preserve">&#160;layer&#160;MS</text>
<text transform="translate(197.00,730.50) scale(0.9820,1.0000)" font-size="38.20">2 layer MS</text>
<path transform="translate(197.00,776.60) scale(0.01832,-0.01865)" d="M763,0 L583,0 L583,1147 Q430,1005 222,930 L222,1104 Q470,1225 646,1466 L763,1466 Z"/>
<text transform="translate(217.86,776.60) scale(0.9820,1.0000)" font-size="38.20" xml:space="preserve">&#160;layer&#160;UF</text>
<text transform="translate(197.00,822.90) scale(0.9820,1.0000)" font-size="38.20">2 layer UF</text>
</g>
<g stroke-linecap="round" stroke-width="10.3" fill="none">
<path d="M808,37.2H847.8" stroke="#1a00ff"/>
<path d="M798.9,422.1H840.5" stroke="#000000"/>
<path d="M810,803.7H853.8" stroke="#ff1f0f"/>
</g>
<g fill="#000">
<text transform="translate(858.00,49.80) scale(0.9850,1.0000)" font-size="38.40">400 nm</text>
<text transform="translate(850.50,434.70) scale(0.9850,1.0000)" font-size="38.40">300 nm</text>
<text transform="translate(863.80,817.20)" font-size="38.80">200 nm</text>
</g>
</svg></body></html>
